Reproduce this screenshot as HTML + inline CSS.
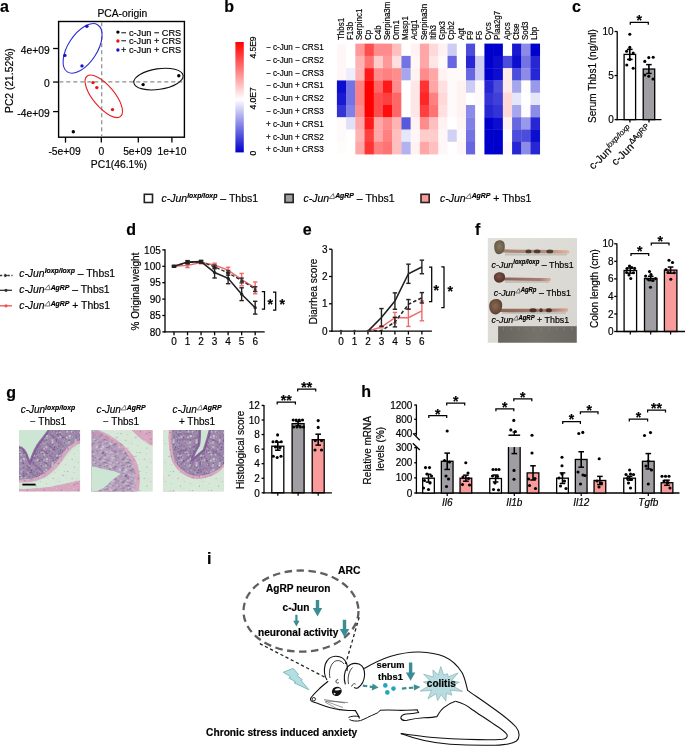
<!DOCTYPE html>
<html><head><meta charset="utf-8"><style>
html,body{margin:0;padding:0;background:#fff;width:685px;height:750px;overflow:hidden}
svg{display:block;will-change:transform}
text{font-family:"Liberation Sans", sans-serif;stroke:#000;stroke-width:0.18px}
</style></head><body>
<svg width="685" height="750" viewBox="0 0 685 750">
<text x="0" y="12" font-size="16" text-anchor="start" font-weight="bold" fill="#000">a</text>
<text x="122.35" y="17.1" font-size="10.3" text-anchor="middle" fill="#000">PCA-origin</text>
<rect x="58.6" y="21.5" width="125.8" height="115.7" fill="none" stroke="#000" stroke-width="1.4"/>
<line x1="59.3" y1="81.9" x2="183.7" y2="81.9" stroke="#8c8c8c" stroke-width="1.2" stroke-dasharray="4,3" stroke-linecap="butt"/>
<line x1="101.7" y1="22.2" x2="101.7" y2="136.4" stroke="#8c8c8c" stroke-width="1.2" stroke-dasharray="4,3" stroke-linecap="butt"/>
<line x1="65.5" y1="137.2" x2="65.5" y2="142.6" stroke="#000" stroke-width="1.3" stroke-linecap="butt"/>
<text x="64.6" y="155.0" font-size="10.3" text-anchor="middle" fill="#000">-5e+09</text>
<line x1="101.3" y1="137.2" x2="101.3" y2="142.6" stroke="#000" stroke-width="1.3" stroke-linecap="butt"/>
<text x="101.4" y="155.0" font-size="10.3" text-anchor="middle" fill="#000">0</text>
<line x1="138.3" y1="137.2" x2="138.3" y2="142.6" stroke="#000" stroke-width="1.3" stroke-linecap="butt"/>
<text x="137.6" y="155.0" font-size="10.3" text-anchor="middle" fill="#000">5e+09</text>
<line x1="171.9" y1="137.2" x2="171.9" y2="142.6" stroke="#000" stroke-width="1.3" stroke-linecap="butt"/>
<text x="172.0" y="155.0" font-size="10.3" text-anchor="middle" fill="#000">1e+10</text>
<line x1="53.1" y1="48.5" x2="58.6" y2="48.5" stroke="#000" stroke-width="1.3" stroke-linecap="butt"/>
<text x="49.7" y="53.5" font-size="10.3" text-anchor="end" fill="#000">4e+09</text>
<line x1="53.1" y1="82.05" x2="58.6" y2="82.05" stroke="#000" stroke-width="1.3" stroke-linecap="butt"/>
<text x="49.7" y="87.05" font-size="10.3" text-anchor="end" fill="#000">0</text>
<line x1="53.1" y1="111.6" x2="58.6" y2="111.6" stroke="#000" stroke-width="1.3" stroke-linecap="butt"/>
<text x="49.7" y="116.6" font-size="10.3" text-anchor="end" fill="#000">-4e+09</text>
<text x="118.9" y="168.2" font-size="10.3" text-anchor="middle" fill="#000">PC1(46.1%)</text>
<text x="13.0" y="80.6" font-size="10.3" text-anchor="middle" fill="#000" transform="rotate(-90 13.0 80.6)">PC2 (21.52%)</text>
<ellipse cx="82.6" cy="48.4" rx="28" ry="14.5" transform="rotate(-57 82.6 48.4)" fill="none" stroke="#2b2bd6" stroke-width="1.1"/>
<ellipse cx="103.8" cy="96.35" rx="26.2" ry="10.7" transform="rotate(50 103.8 96.35)" fill="none" stroke="#e52020" stroke-width="1.1"/>
<ellipse cx="158.45" cy="79.1" rx="24.9" ry="10.3" transform="rotate(-8.5 158.45 79.1)" fill="none" stroke="#111" stroke-width="1.1"/>
<circle cx="86.9" cy="26.3" r="1.7" fill="#1515d0"/>
<circle cx="64.9" cy="55.4" r="1.7" fill="#1515d0"/>
<circle cx="82" cy="65.9" r="1.7" fill="#1515d0"/>
<circle cx="93" cy="82.6" r="1.7" fill="#ee1111"/>
<circle cx="96.8" cy="87.6" r="1.7" fill="#ee1111"/>
<circle cx="112.5" cy="109.6" r="1.7" fill="#ee1111"/>
<circle cx="143.1" cy="84.6" r="1.7" fill="#000"/>
<circle cx="178.8" cy="75.7" r="1.7" fill="#000"/>
<circle cx="73.3" cy="131.7" r="1.7" fill="#000"/>
<circle cx="117.9" cy="32.1" r="1.7" fill="#000"/>
<text x="121.0" y="35.5" font-size="9.2" text-anchor="start" fill="#000">− c-Jun − CRS</text>
<circle cx="117.9" cy="41.05" r="1.7" fill="#ee1111"/>
<text x="121.0" y="44.449999999999996" font-size="9.2" text-anchor="start" fill="#000">− c-Jun + CRS</text>
<circle cx="117.9" cy="50.0" r="1.7" fill="#1515d0"/>
<text x="121.0" y="53.4" font-size="9.2" text-anchor="start" fill="#000">+ c-Jun + CRS</text>
<text x="224.3" y="11.8" font-size="16" text-anchor="start" font-weight="bold" fill="#000">b</text>
<defs><linearGradient id="cb" x1="0" y1="0" x2="0" y2="1">
<stop offset="0" stop-color="#ff0000"/><stop offset="0.52" stop-color="#ffffff"/><stop offset="1" stop-color="#0000cc"/>
</linearGradient></defs>
<rect x="235.4" y="42" width="8.4" height="110.4" fill="url(#cb)"/>
<text x="255.6" y="47.5" font-size="8.5" text-anchor="middle" fill="#000" transform="rotate(-90 255.6 47.5)">4.5E9</text>
<text x="255.6" y="98.4" font-size="8.5" text-anchor="middle" fill="#000" transform="rotate(-90 255.6 98.4)">4.0E7</text>
<text x="255.6" y="153.2" font-size="8.5" text-anchor="middle" fill="#000" transform="rotate(-90 255.6 153.2)">0</text>
<text x="0" y="0" font-size="8.7" text-anchor="start" fill="#000" transform="translate(265.9 50.1) scale(0.935 1)">− c-Jun − CRS1</text>
<text x="0" y="0" font-size="8.7" text-anchor="start" fill="#000" transform="translate(265.9 62.89) scale(0.935 1)">− c-Jun − CRS2</text>
<text x="0" y="0" font-size="8.7" text-anchor="start" fill="#000" transform="translate(265.9 75.68) scale(0.935 1)">− c-Jun − CRS3</text>
<text x="0" y="0" font-size="8.7" text-anchor="start" fill="#000" transform="translate(265.9 88.47) scale(0.935 1)">− c-Jun + CRS1</text>
<text x="0" y="0" font-size="8.7" text-anchor="start" fill="#000" transform="translate(265.9 101.25999999999999) scale(0.935 1)">− c-Jun + CRS2</text>
<text x="0" y="0" font-size="8.7" text-anchor="start" fill="#000" transform="translate(265.9 114.05) scale(0.935 1)">− c-Jun + CRS3</text>
<text x="0" y="0" font-size="8.7" text-anchor="start" fill="#000" transform="translate(265.9 126.84) scale(0.935 1)">+ c-Jun + CRS1</text>
<text x="0" y="0" font-size="8.7" text-anchor="start" fill="#000" transform="translate(265.9 139.63) scale(0.935 1)">+ c-Jun + CRS2</text>
<text x="0" y="0" font-size="8.7" text-anchor="start" fill="#000" transform="translate(265.9 152.42) scale(0.935 1)">+ c-Jun + CRS3</text>
<rect x="336.90" y="43.60" width="9.52" height="12.58" fill="rgb(255,247,247)"/>
<rect x="336.90" y="55.88" width="9.52" height="12.58" fill="rgb(255,247,247)"/>
<rect x="336.90" y="68.16" width="9.52" height="12.58" fill="rgb(255,247,247)"/>
<rect x="336.90" y="80.44" width="9.52" height="12.58" fill="rgb(13,13,207)"/>
<rect x="336.90" y="92.72" width="9.52" height="12.58" fill="rgb(25,25,209)"/>
<rect x="336.90" y="105.00" width="9.52" height="12.58" fill="rgb(51,51,214)"/>
<rect x="336.90" y="117.28" width="9.52" height="12.58" fill="rgb(255,250,250)"/>
<rect x="336.90" y="129.56" width="9.52" height="12.58" fill="rgb(255,250,250)"/>
<rect x="336.90" y="141.84" width="9.52" height="12.58" fill="rgb(255,252,252)"/>
<text x="0" y="0" font-size="8.5" text-anchor="start" fill="#000" transform="translate(343.71 40.0) rotate(-90) scale(0.935 1)">Thbs1</text>
<rect x="346.12" y="43.60" width="9.52" height="12.58" fill="rgb(255,255,255)"/>
<rect x="346.12" y="55.88" width="9.52" height="12.58" fill="rgb(255,255,255)"/>
<rect x="346.12" y="68.16" width="9.52" height="12.58" fill="rgb(237,237,251)"/>
<rect x="346.12" y="80.44" width="9.52" height="12.58" fill="rgb(115,115,227)"/>
<rect x="346.12" y="92.72" width="9.52" height="12.58" fill="rgb(115,115,227)"/>
<rect x="346.12" y="105.00" width="9.52" height="12.58" fill="rgb(128,128,230)"/>
<rect x="346.12" y="117.28" width="9.52" height="12.58" fill="rgb(224,224,249)"/>
<rect x="346.12" y="129.56" width="9.52" height="12.58" fill="rgb(255,255,255)"/>
<rect x="346.12" y="141.84" width="9.52" height="12.58" fill="rgb(255,255,255)"/>
<text x="0" y="0" font-size="8.5" text-anchor="start" fill="#000" transform="translate(352.92999999999995 40.0) rotate(-90) scale(0.935 1)">F13b</text>
<rect x="355.34" y="43.60" width="9.52" height="12.58" fill="rgb(255,153,153)"/>
<rect x="355.34" y="55.88" width="9.52" height="12.58" fill="rgb(255,178,178)"/>
<rect x="355.34" y="68.16" width="9.52" height="12.58" fill="rgb(255,178,178)"/>
<rect x="355.34" y="80.44" width="9.52" height="12.58" fill="rgb(255,128,128)"/>
<rect x="355.34" y="92.72" width="9.52" height="12.58" fill="rgb(255,128,128)"/>
<rect x="355.34" y="105.00" width="9.52" height="12.58" fill="rgb(255,140,140)"/>
<rect x="355.34" y="117.28" width="9.52" height="12.58" fill="rgb(255,166,166)"/>
<rect x="355.34" y="129.56" width="9.52" height="12.58" fill="rgb(255,178,178)"/>
<rect x="355.34" y="141.84" width="9.52" height="12.58" fill="rgb(255,166,166)"/>
<text x="0" y="0" font-size="8.5" text-anchor="start" fill="#000" transform="translate(362.15 40.0) rotate(-90) scale(0.935 1)">Serpinc1</text>
<rect x="364.56" y="43.60" width="9.52" height="12.58" fill="rgb(255,77,77)"/>
<rect x="364.56" y="55.88" width="9.52" height="12.58" fill="rgb(255,115,115)"/>
<rect x="364.56" y="68.16" width="9.52" height="12.58" fill="rgb(255,25,25)"/>
<rect x="364.56" y="80.44" width="9.52" height="12.58" fill="rgb(255,0,0)"/>
<rect x="364.56" y="92.72" width="9.52" height="12.58" fill="rgb(255,0,0)"/>
<rect x="364.56" y="105.00" width="9.52" height="12.58" fill="rgb(255,0,0)"/>
<rect x="364.56" y="117.28" width="9.52" height="12.58" fill="rgb(255,25,25)"/>
<rect x="364.56" y="129.56" width="9.52" height="12.58" fill="rgb(255,64,64)"/>
<rect x="364.56" y="141.84" width="9.52" height="12.58" fill="rgb(255,51,51)"/>
<text x="0" y="0" font-size="8.5" text-anchor="start" fill="#000" transform="translate(371.36999999999995 40.0) rotate(-90) scale(0.935 1)">Cp</text>
<rect x="373.78" y="43.60" width="9.52" height="12.58" fill="rgb(255,140,140)"/>
<rect x="373.78" y="55.88" width="9.52" height="12.58" fill="rgb(255,204,204)"/>
<rect x="373.78" y="68.16" width="9.52" height="12.58" fill="rgb(255,140,140)"/>
<rect x="373.78" y="80.44" width="9.52" height="12.58" fill="rgb(255,102,102)"/>
<rect x="373.78" y="92.72" width="9.52" height="12.58" fill="rgb(255,77,77)"/>
<rect x="373.78" y="105.00" width="9.52" height="12.58" fill="rgb(255,77,77)"/>
<rect x="373.78" y="117.28" width="9.52" height="12.58" fill="rgb(255,166,166)"/>
<rect x="373.78" y="129.56" width="9.52" height="12.58" fill="rgb(255,166,166)"/>
<rect x="373.78" y="141.84" width="9.52" height="12.58" fill="rgb(255,128,128)"/>
<text x="0" y="0" font-size="8.5" text-anchor="start" fill="#000" transform="translate(380.59 40.0) rotate(-90) scale(0.935 1)">C4b</text>
<rect x="383.00" y="43.60" width="9.52" height="12.58" fill="rgb(255,140,140)"/>
<rect x="383.00" y="55.88" width="9.52" height="12.58" fill="rgb(255,153,153)"/>
<rect x="383.00" y="68.16" width="9.52" height="12.58" fill="rgb(255,128,128)"/>
<rect x="383.00" y="80.44" width="9.52" height="12.58" fill="rgb(255,25,25)"/>
<rect x="383.00" y="92.72" width="9.52" height="12.58" fill="rgb(255,64,64)"/>
<rect x="383.00" y="105.00" width="9.52" height="12.58" fill="rgb(255,13,13)"/>
<rect x="383.00" y="117.28" width="9.52" height="12.58" fill="rgb(255,140,140)"/>
<rect x="383.00" y="129.56" width="9.52" height="12.58" fill="rgb(255,128,128)"/>
<rect x="383.00" y="141.84" width="9.52" height="12.58" fill="rgb(255,115,115)"/>
<text x="0" y="0" font-size="8.5" text-anchor="start" fill="#000" transform="translate(389.80999999999995 40.0) rotate(-90) scale(0.935 1)">Serpina3m</text>
<rect x="392.22" y="43.60" width="9.52" height="12.58" fill="rgb(255,191,191)"/>
<rect x="392.22" y="55.88" width="9.52" height="12.58" fill="rgb(255,224,224)"/>
<rect x="392.22" y="68.16" width="9.52" height="12.58" fill="rgb(255,140,140)"/>
<rect x="392.22" y="80.44" width="9.52" height="12.58" fill="rgb(255,140,140)"/>
<rect x="392.22" y="92.72" width="9.52" height="12.58" fill="rgb(255,102,102)"/>
<rect x="392.22" y="105.00" width="9.52" height="12.58" fill="rgb(255,102,102)"/>
<rect x="392.22" y="117.28" width="9.52" height="12.58" fill="rgb(255,178,178)"/>
<rect x="392.22" y="129.56" width="9.52" height="12.58" fill="rgb(255,191,191)"/>
<rect x="392.22" y="141.84" width="9.52" height="12.58" fill="rgb(255,191,191)"/>
<text x="0" y="0" font-size="8.5" text-anchor="start" fill="#000" transform="translate(399.03 40.0) rotate(-90) scale(0.935 1)">Orm1</text>
<rect x="401.44" y="43.60" width="9.52" height="12.58" fill="rgb(255,255,255)"/>
<rect x="401.44" y="55.88" width="9.52" height="12.58" fill="rgb(115,115,227)"/>
<rect x="401.44" y="68.16" width="9.52" height="12.58" fill="rgb(166,166,237)"/>
<rect x="401.44" y="80.44" width="9.52" height="12.58" fill="rgb(255,255,255)"/>
<rect x="401.44" y="92.72" width="9.52" height="12.58" fill="rgb(255,255,255)"/>
<rect x="401.44" y="105.00" width="9.52" height="12.58" fill="rgb(255,255,255)"/>
<rect x="401.44" y="117.28" width="9.52" height="12.58" fill="rgb(89,89,222)"/>
<rect x="401.44" y="129.56" width="9.52" height="12.58" fill="rgb(230,230,250)"/>
<rect x="401.44" y="141.84" width="9.52" height="12.58" fill="rgb(178,178,240)"/>
<text x="0" y="0" font-size="8.5" text-anchor="start" fill="#000" transform="translate(408.24999999999994 40.0) rotate(-90) scale(0.935 1)">Masp1</text>
<rect x="410.66" y="43.60" width="9.52" height="12.58" fill="rgb(255,242,242)"/>
<rect x="410.66" y="55.88" width="9.52" height="12.58" fill="rgb(255,247,247)"/>
<rect x="410.66" y="68.16" width="9.52" height="12.58" fill="rgb(255,242,242)"/>
<rect x="410.66" y="80.44" width="9.52" height="12.58" fill="rgb(255,230,230)"/>
<rect x="410.66" y="92.72" width="9.52" height="12.58" fill="rgb(255,230,230)"/>
<rect x="410.66" y="105.00" width="9.52" height="12.58" fill="rgb(255,230,230)"/>
<rect x="410.66" y="117.28" width="9.52" height="12.58" fill="rgb(255,242,242)"/>
<rect x="410.66" y="129.56" width="9.52" height="12.58" fill="rgb(255,247,247)"/>
<rect x="410.66" y="141.84" width="9.52" height="12.58" fill="rgb(255,242,242)"/>
<text x="0" y="0" font-size="8.5" text-anchor="start" fill="#000" transform="translate(417.46999999999997 40.0) rotate(-90) scale(0.935 1)">Actg1</text>
<rect x="419.88" y="43.60" width="9.52" height="12.58" fill="rgb(255,166,166)"/>
<rect x="419.88" y="55.88" width="9.52" height="12.58" fill="rgb(255,166,166)"/>
<rect x="419.88" y="68.16" width="9.52" height="12.58" fill="rgb(255,140,140)"/>
<rect x="419.88" y="80.44" width="9.52" height="12.58" fill="rgb(255,51,51)"/>
<rect x="419.88" y="92.72" width="9.52" height="12.58" fill="rgb(255,38,38)"/>
<rect x="419.88" y="105.00" width="9.52" height="12.58" fill="rgb(255,64,64)"/>
<rect x="419.88" y="117.28" width="9.52" height="12.58" fill="rgb(255,140,140)"/>
<rect x="419.88" y="129.56" width="9.52" height="12.58" fill="rgb(255,204,204)"/>
<rect x="419.88" y="141.84" width="9.52" height="12.58" fill="rgb(255,166,166)"/>
<text x="0" y="0" font-size="8.5" text-anchor="start" fill="#000" transform="translate(426.69 40.0) rotate(-90) scale(0.935 1)">Serpina3n</text>
<rect x="429.10" y="43.60" width="9.52" height="12.58" fill="rgb(255,217,217)"/>
<rect x="429.10" y="55.88" width="9.52" height="12.58" fill="rgb(255,230,230)"/>
<rect x="429.10" y="68.16" width="9.52" height="12.58" fill="rgb(255,166,166)"/>
<rect x="429.10" y="80.44" width="9.52" height="12.58" fill="rgb(255,166,166)"/>
<rect x="429.10" y="92.72" width="9.52" height="12.58" fill="rgb(255,128,128)"/>
<rect x="429.10" y="105.00" width="9.52" height="12.58" fill="rgb(255,115,115)"/>
<rect x="429.10" y="117.28" width="9.52" height="12.58" fill="rgb(255,191,191)"/>
<rect x="429.10" y="129.56" width="9.52" height="12.58" fill="rgb(255,204,204)"/>
<rect x="429.10" y="141.84" width="9.52" height="12.58" fill="rgb(255,191,191)"/>
<text x="0" y="0" font-size="8.5" text-anchor="start" fill="#000" transform="translate(435.90999999999997 40.0) rotate(-90) scale(0.935 1)">Itih3</text>
<rect x="438.32" y="43.60" width="9.52" height="12.58" fill="rgb(255,242,242)"/>
<rect x="438.32" y="55.88" width="9.52" height="12.58" fill="rgb(255,250,250)"/>
<rect x="438.32" y="68.16" width="9.52" height="12.58" fill="rgb(255,242,242)"/>
<rect x="438.32" y="80.44" width="9.52" height="12.58" fill="rgb(255,224,224)"/>
<rect x="438.32" y="92.72" width="9.52" height="12.58" fill="rgb(255,217,217)"/>
<rect x="438.32" y="105.00" width="9.52" height="12.58" fill="rgb(255,224,224)"/>
<rect x="438.32" y="117.28" width="9.52" height="12.58" fill="rgb(255,242,242)"/>
<rect x="438.32" y="129.56" width="9.52" height="12.58" fill="rgb(255,247,247)"/>
<rect x="438.32" y="141.84" width="9.52" height="12.58" fill="rgb(255,247,247)"/>
<text x="0" y="0" font-size="8.5" text-anchor="start" fill="#000" transform="translate(445.12999999999994 40.0) rotate(-90) scale(0.935 1)">Gpx3</text>
<rect x="447.54" y="43.60" width="9.52" height="12.58" fill="rgb(204,204,245)"/>
<rect x="447.54" y="55.88" width="9.52" height="12.58" fill="rgb(102,102,224)"/>
<rect x="447.54" y="68.16" width="9.52" height="12.58" fill="rgb(255,250,250)"/>
<rect x="447.54" y="80.44" width="9.52" height="12.58" fill="rgb(255,250,250)"/>
<rect x="447.54" y="92.72" width="9.52" height="12.58" fill="rgb(255,250,250)"/>
<rect x="447.54" y="105.00" width="9.52" height="12.58" fill="rgb(255,250,250)"/>
<rect x="447.54" y="117.28" width="9.52" height="12.58" fill="rgb(255,255,255)"/>
<rect x="447.54" y="129.56" width="9.52" height="12.58" fill="rgb(209,209,246)"/>
<rect x="447.54" y="141.84" width="9.52" height="12.58" fill="rgb(255,255,255)"/>
<text x="0" y="0" font-size="8.5" text-anchor="start" fill="#000" transform="translate(454.34999999999997 40.0) rotate(-90) scale(0.935 1)">Cpb2</text>
<rect x="456.76" y="43.60" width="9.52" height="12.58" fill="rgb(255,255,255)"/>
<rect x="456.76" y="55.88" width="9.52" height="12.58" fill="rgb(255,255,255)"/>
<rect x="456.76" y="68.16" width="9.52" height="12.58" fill="rgb(255,250,250)"/>
<rect x="456.76" y="80.44" width="9.52" height="12.58" fill="rgb(255,242,242)"/>
<rect x="456.76" y="92.72" width="9.52" height="12.58" fill="rgb(255,242,242)"/>
<rect x="456.76" y="105.00" width="9.52" height="12.58" fill="rgb(255,242,242)"/>
<rect x="456.76" y="117.28" width="9.52" height="12.58" fill="rgb(255,245,245)"/>
<rect x="456.76" y="129.56" width="9.52" height="12.58" fill="rgb(255,250,250)"/>
<rect x="456.76" y="141.84" width="9.52" height="12.58" fill="rgb(255,247,247)"/>
<text x="0" y="0" font-size="8.5" text-anchor="start" fill="#000" transform="translate(463.57 40.0) rotate(-90) scale(0.935 1)">Agt</text>
<rect x="465.98" y="43.60" width="9.52" height="12.58" fill="rgb(77,77,219)"/>
<rect x="465.98" y="55.88" width="9.52" height="12.58" fill="rgb(38,38,212)"/>
<rect x="465.98" y="68.16" width="9.52" height="12.58" fill="rgb(102,102,224)"/>
<rect x="465.98" y="80.44" width="9.52" height="12.58" fill="rgb(204,204,245)"/>
<rect x="465.98" y="92.72" width="9.52" height="12.58" fill="rgb(255,255,255)"/>
<rect x="465.98" y="105.00" width="9.52" height="12.58" fill="rgb(140,140,232)"/>
<rect x="465.98" y="117.28" width="9.52" height="12.58" fill="rgb(128,128,230)"/>
<rect x="465.98" y="129.56" width="9.52" height="12.58" fill="rgb(115,115,227)"/>
<rect x="465.98" y="141.84" width="9.52" height="12.58" fill="rgb(102,102,224)"/>
<text x="0" y="0" font-size="8.5" text-anchor="start" fill="#000" transform="translate(472.78999999999996 40.0) rotate(-90) scale(0.935 1)">F9</text>
<rect x="475.20" y="43.60" width="9.52" height="12.58" fill="rgb(255,255,255)"/>
<rect x="475.20" y="55.88" width="9.52" height="12.58" fill="rgb(204,204,245)"/>
<rect x="475.20" y="68.16" width="9.52" height="12.58" fill="rgb(204,204,245)"/>
<rect x="475.20" y="80.44" width="9.52" height="12.58" fill="rgb(255,250,250)"/>
<rect x="475.20" y="92.72" width="9.52" height="12.58" fill="rgb(255,250,250)"/>
<rect x="475.20" y="105.00" width="9.52" height="12.58" fill="rgb(255,255,255)"/>
<rect x="475.20" y="117.28" width="9.52" height="12.58" fill="rgb(255,255,255)"/>
<rect x="475.20" y="129.56" width="9.52" height="12.58" fill="rgb(255,255,255)"/>
<rect x="475.20" y="141.84" width="9.52" height="12.58" fill="rgb(255,255,255)"/>
<text x="0" y="0" font-size="8.5" text-anchor="start" fill="#000" transform="translate(482.00999999999993 40.0) rotate(-90) scale(0.935 1)">F5</text>
<rect x="484.42" y="43.60" width="9.52" height="12.58" fill="rgb(0,0,204)"/>
<rect x="484.42" y="55.88" width="9.52" height="12.58" fill="rgb(0,0,204)"/>
<rect x="484.42" y="68.16" width="9.52" height="12.58" fill="rgb(0,0,204)"/>
<rect x="484.42" y="80.44" width="9.52" height="12.58" fill="rgb(38,38,212)"/>
<rect x="484.42" y="92.72" width="9.52" height="12.58" fill="rgb(51,51,214)"/>
<rect x="484.42" y="105.00" width="9.52" height="12.58" fill="rgb(38,38,212)"/>
<rect x="484.42" y="117.28" width="9.52" height="12.58" fill="rgb(0,0,204)"/>
<rect x="484.42" y="129.56" width="9.52" height="12.58" fill="rgb(0,0,204)"/>
<rect x="484.42" y="141.84" width="9.52" height="12.58" fill="rgb(0,0,204)"/>
<text x="0" y="0" font-size="8.5" text-anchor="start" fill="#000" transform="translate(491.22999999999996 40.0) rotate(-90) scale(0.935 1)">Cycs</text>
<rect x="493.64" y="43.60" width="9.52" height="12.58" fill="rgb(0,0,204)"/>
<rect x="493.64" y="55.88" width="9.52" height="12.58" fill="rgb(13,13,207)"/>
<rect x="493.64" y="68.16" width="9.52" height="12.58" fill="rgb(13,13,207)"/>
<rect x="493.64" y="80.44" width="9.52" height="12.58" fill="rgb(77,77,219)"/>
<rect x="493.64" y="92.72" width="9.52" height="12.58" fill="rgb(64,64,217)"/>
<rect x="493.64" y="105.00" width="9.52" height="12.58" fill="rgb(51,51,214)"/>
<rect x="493.64" y="117.28" width="9.52" height="12.58" fill="rgb(13,13,207)"/>
<rect x="493.64" y="129.56" width="9.52" height="12.58" fill="rgb(0,0,204)"/>
<rect x="493.64" y="141.84" width="9.52" height="12.58" fill="rgb(0,0,204)"/>
<text x="0" y="0" font-size="8.5" text-anchor="start" fill="#000" transform="translate(500.45 40.0) rotate(-90) scale(0.935 1)">Plaa2g7</text>
<rect x="502.86" y="43.60" width="9.52" height="12.58" fill="rgb(255,255,255)"/>
<rect x="502.86" y="55.88" width="9.52" height="12.58" fill="rgb(77,77,219)"/>
<rect x="502.86" y="68.16" width="9.52" height="12.58" fill="rgb(255,235,235)"/>
<rect x="502.86" y="80.44" width="9.52" height="12.58" fill="rgb(255,235,235)"/>
<rect x="502.86" y="92.72" width="9.52" height="12.58" fill="rgb(255,217,217)"/>
<rect x="502.86" y="105.00" width="9.52" height="12.58" fill="rgb(255,217,217)"/>
<rect x="502.86" y="117.28" width="9.52" height="12.58" fill="rgb(255,242,242)"/>
<rect x="502.86" y="129.56" width="9.52" height="12.58" fill="rgb(255,255,255)"/>
<rect x="502.86" y="141.84" width="9.52" height="12.58" fill="rgb(255,250,250)"/>
<text x="0" y="0" font-size="8.5" text-anchor="start" fill="#000" transform="translate(509.67 40.0) rotate(-90) scale(0.935 1)">Apcs</text>
<rect x="512.08" y="43.60" width="9.52" height="12.58" fill="rgb(25,25,209)"/>
<rect x="512.08" y="55.88" width="9.52" height="12.58" fill="rgb(13,13,207)"/>
<rect x="512.08" y="68.16" width="9.52" height="12.58" fill="rgb(77,77,219)"/>
<rect x="512.08" y="80.44" width="9.52" height="12.58" fill="rgb(166,166,237)"/>
<rect x="512.08" y="92.72" width="9.52" height="12.58" fill="rgb(230,230,250)"/>
<rect x="512.08" y="105.00" width="9.52" height="12.58" fill="rgb(166,166,237)"/>
<rect x="512.08" y="117.28" width="9.52" height="12.58" fill="rgb(102,102,224)"/>
<rect x="512.08" y="129.56" width="9.52" height="12.58" fill="rgb(77,77,219)"/>
<rect x="512.08" y="141.84" width="9.52" height="12.58" fill="rgb(38,38,212)"/>
<text x="0" y="0" font-size="8.5" text-anchor="start" fill="#000" transform="translate(518.8900000000001 40.0) rotate(-90) scale(0.935 1)">Ctse</text>
<rect x="521.30" y="43.60" width="9.52" height="12.58" fill="rgb(140,140,232)"/>
<rect x="521.30" y="55.88" width="9.52" height="12.58" fill="rgb(115,115,227)"/>
<rect x="521.30" y="68.16" width="9.52" height="12.58" fill="rgb(140,140,232)"/>
<rect x="521.30" y="80.44" width="9.52" height="12.58" fill="rgb(255,252,252)"/>
<rect x="521.30" y="92.72" width="9.52" height="12.58" fill="rgb(255,255,255)"/>
<rect x="521.30" y="105.00" width="9.52" height="12.58" fill="rgb(255,252,252)"/>
<rect x="521.30" y="117.28" width="9.52" height="12.58" fill="rgb(153,153,235)"/>
<rect x="521.30" y="129.56" width="9.52" height="12.58" fill="rgb(77,77,219)"/>
<rect x="521.30" y="141.84" width="9.52" height="12.58" fill="rgb(140,140,232)"/>
<text x="0" y="0" font-size="8.5" text-anchor="start" fill="#000" transform="translate(528.11 40.0) rotate(-90) scale(0.935 1)">Sod3</text>
<rect x="530.52" y="43.60" width="9.52" height="12.58" fill="rgb(0,0,204)"/>
<rect x="530.52" y="55.88" width="9.52" height="12.58" fill="rgb(38,38,212)"/>
<rect x="530.52" y="68.16" width="9.52" height="12.58" fill="rgb(38,38,212)"/>
<rect x="530.52" y="80.44" width="9.52" height="12.58" fill="rgb(153,153,235)"/>
<rect x="530.52" y="92.72" width="9.52" height="12.58" fill="rgb(230,230,250)"/>
<rect x="530.52" y="105.00" width="9.52" height="12.58" fill="rgb(140,140,232)"/>
<rect x="530.52" y="117.28" width="9.52" height="12.58" fill="rgb(38,38,212)"/>
<rect x="530.52" y="129.56" width="9.52" height="12.58" fill="rgb(13,13,207)"/>
<rect x="530.52" y="141.84" width="9.52" height="12.58" fill="rgb(38,38,212)"/>
<text x="0" y="0" font-size="8.5" text-anchor="start" fill="#000" transform="translate(537.33 40.0) rotate(-90) scale(0.935 1)">Lbp</text>
<text x="572.0" y="11.8" font-size="16" text-anchor="start" font-weight="bold" fill="#000">c</text>
<rect x="624.1" y="54.40599999999999" width="11.5" height="65.194" fill="#fff" stroke="#000" stroke-width="1.3"/>
<rect x="643.2" y="69.03059999999999" width="11.5" height="50.5694" fill="#a09ea2" stroke="#000" stroke-width="1.3"/>
<line x1="617.2" y1="31.3" x2="617.2" y2="120.19999999999999" stroke="#000" stroke-width="1.3" stroke-linecap="butt"/>
<line x1="616.6" y1="119.6" x2="661.5" y2="119.6" stroke="#000" stroke-width="1.3" stroke-linecap="butt"/>
<line x1="614.6" y1="31.499999999999986" x2="617.2" y2="31.499999999999986" stroke="#000" stroke-width="1.3" stroke-linecap="butt"/>
<text x="613.7" y="34.999999999999986" font-size="10" text-anchor="end" fill="#000">10</text>
<line x1="614.6" y1="75.54999999999998" x2="617.2" y2="75.54999999999998" stroke="#000" stroke-width="1.3" stroke-linecap="butt"/>
<text x="613.7" y="79.04999999999998" font-size="10" text-anchor="end" fill="#000">5</text>
<line x1="614.6" y1="119.6" x2="617.2" y2="119.6" stroke="#000" stroke-width="1.3" stroke-linecap="butt"/>
<text x="613.7" y="123.1" font-size="10" text-anchor="end" fill="#000">0</text>
<line x1="629.9" y1="119.6" x2="629.9" y2="122.6" stroke="#000" stroke-width="1.3" stroke-linecap="butt"/>
<line x1="649" y1="119.6" x2="649" y2="122.6" stroke="#000" stroke-width="1.3" stroke-linecap="butt"/>
<line x1="629.8" y1="49.38429999999998" x2="629.8" y2="59.42769999999999" stroke="#000" stroke-width="1.6" stroke-linecap="butt"/>
<line x1="627.0" y1="49.38429999999998" x2="632.5999999999999" y2="49.38429999999998" stroke="#000" stroke-width="1.5" stroke-linecap="butt"/>
<line x1="627.0" y1="59.42769999999999" x2="632.5999999999999" y2="59.42769999999999" stroke="#000" stroke-width="1.5" stroke-linecap="butt"/>
<line x1="648.9" y1="64.62559999999999" x2="648.9" y2="73.4356" stroke="#000" stroke-width="1.6" stroke-linecap="butt"/>
<line x1="646.1" y1="64.62559999999999" x2="651.6999999999999" y2="64.62559999999999" stroke="#000" stroke-width="1.5" stroke-linecap="butt"/>
<line x1="646.1" y1="73.4356" x2="651.6999999999999" y2="73.4356" stroke="#000" stroke-width="1.5" stroke-linecap="butt"/>
<circle cx="629.8" cy="34.2" r="1.55" fill="#000"/>
<circle cx="629.8" cy="47.4" r="1.55" fill="#000"/>
<circle cx="626.6" cy="51.2" r="1.55" fill="#000"/>
<circle cx="633.2" cy="53" r="1.55" fill="#000"/>
<circle cx="629.8" cy="59.4" r="1.55" fill="#000"/>
<circle cx="626.8" cy="65" r="1.55" fill="#000"/>
<circle cx="633.2" cy="68.2" r="1.55" fill="#000"/>
<circle cx="644.8" cy="61.4" r="1.55" fill="#000"/>
<circle cx="648.8" cy="57.6" r="1.55" fill="#000"/>
<circle cx="653.2" cy="57.2" r="1.55" fill="#000"/>
<circle cx="644.8" cy="75" r="1.55" fill="#000"/>
<circle cx="648.8" cy="76.2" r="1.55" fill="#000"/>
<circle cx="653" cy="79" r="1.55" fill="#000"/>
<path d="M630.3,24.799999999999997 V22.4 H648.3 V24.799999999999997" stroke="#000" stroke-width="1.25" fill="none"/>
<text x="639.3" y="25.20" font-size="14" font-weight="bold" text-anchor="middle">*</text>
<text x="595.9" y="76" font-size="10" text-anchor="middle" fill="#000" transform="rotate(-90 595.9 76)">Serum Thbs1 (ng/ml)</text>
<text x="633.2" y="130.2" font-size="10.8" text-anchor="end" transform="rotate(-45 633.2 130.2)"><tspan>c-Jun</tspan><tspan font-size="7.6" font-style="italic" dy="-4">loxp/loxp</tspan></text>
<text x="652.6" y="129.3" font-size="10.8" text-anchor="end" transform="rotate(-45 652.6 129.3)"><tspan>c-Jun</tspan><tspan font-size="7.8" dy="-4">ΔAgRP</tspan></text>
<rect x="144.3" y="194.3" width="8.2" height="8.2" fill="#fff" stroke="#222" stroke-width="1.6"/>
<text x="161.50" y="201.8" font-size="10.5" font-style="italic">c-Jun</text>
<text x="187.18" y="198.40" font-size="6.9" font-weight="bold" font-style="italic">loxp/loxp</text>
<text x="217.46" y="201.8" font-size="10.5" xml:space="preserve"> – Thbs1</text>
<rect x="285.0" y="194.3" width="8.2" height="8.2" fill="#a09ea2" stroke="#222" stroke-width="1.6"/>
<text x="303.40" y="201.8" font-size="10.5" font-style="italic">c-Jun</text>
<path d="M329.18,198.55 L334.43,198.55 L333.32,193.61 Z" fill="none" stroke="#222" stroke-width="0.63" stroke-linejoin="miter"/>
<text x="335.13" y="198.40" font-size="6.9" font-weight="bold" font-style="italic">AgRP</text>
<text x="353.91" y="201.8" font-size="10.5" xml:space="preserve"> – Thbs1</text>
<rect x="421.0" y="194.3" width="8.2" height="8.2" fill="#f99b9b" stroke="#222" stroke-width="1.6"/>
<text x="439.90" y="201.8" font-size="10.5" font-style="italic">c-Jun</text>
<path d="M465.68,198.55 L470.93,198.55 L469.82,193.61 Z" fill="none" stroke="#222" stroke-width="0.63" stroke-linejoin="miter"/>
<text x="471.63" y="198.40" font-size="6.9" font-weight="bold" font-style="italic">AgRP</text>
<text x="490.41" y="201.8" font-size="10.5" xml:space="preserve"> + Thbs1</text>
<text x="126.3" y="234.7" font-size="16" text-anchor="start" font-weight="bold" fill="#000">d</text>
<line x1="165.0" y1="249.2" x2="165.0" y2="332.4" stroke="#000" stroke-width="1.3" stroke-linecap="butt"/>
<line x1="164.4" y1="331.8" x2="264.7" y2="331.8" stroke="#000" stroke-width="1.3" stroke-linecap="butt"/>
<line x1="162.3" y1="249.9" x2="165.0" y2="249.9" stroke="#000" stroke-width="1.3" stroke-linecap="butt"/>
<text x="160.8" y="253.5" font-size="10" text-anchor="end" fill="#000">105</text>
<line x1="162.3" y1="266.3" x2="165.0" y2="266.3" stroke="#000" stroke-width="1.3" stroke-linecap="butt"/>
<text x="160.8" y="269.90000000000003" font-size="10" text-anchor="end" fill="#000">100</text>
<line x1="162.3" y1="282.7" x2="165.0" y2="282.7" stroke="#000" stroke-width="1.3" stroke-linecap="butt"/>
<text x="160.8" y="286.3" font-size="10" text-anchor="end" fill="#000">95</text>
<line x1="162.3" y1="299.1" x2="165.0" y2="299.1" stroke="#000" stroke-width="1.3" stroke-linecap="butt"/>
<text x="160.8" y="302.70000000000005" font-size="10" text-anchor="end" fill="#000">90</text>
<line x1="162.3" y1="315.5" x2="165.0" y2="315.5" stroke="#000" stroke-width="1.3" stroke-linecap="butt"/>
<text x="160.8" y="319.1" font-size="10" text-anchor="end" fill="#000">85</text>
<line x1="162.3" y1="331.9" x2="165.0" y2="331.9" stroke="#000" stroke-width="1.3" stroke-linecap="butt"/>
<text x="160.8" y="335.5" font-size="10" text-anchor="end" fill="#000">80</text>
<line x1="174.0" y1="331.8" x2="174.0" y2="335.3" stroke="#000" stroke-width="1.3" stroke-linecap="butt"/>
<text x="174.0" y="345.3" font-size="10" text-anchor="middle" fill="#000">0</text>
<line x1="187.53" y1="331.8" x2="187.53" y2="335.3" stroke="#000" stroke-width="1.3" stroke-linecap="butt"/>
<text x="187.53" y="345.3" font-size="10" text-anchor="middle" fill="#000">1</text>
<line x1="201.06" y1="331.8" x2="201.06" y2="335.3" stroke="#000" stroke-width="1.3" stroke-linecap="butt"/>
<text x="201.06" y="345.3" font-size="10" text-anchor="middle" fill="#000">2</text>
<line x1="214.59" y1="331.8" x2="214.59" y2="335.3" stroke="#000" stroke-width="1.3" stroke-linecap="butt"/>
<text x="214.59" y="345.3" font-size="10" text-anchor="middle" fill="#000">3</text>
<line x1="228.12" y1="331.8" x2="228.12" y2="335.3" stroke="#000" stroke-width="1.3" stroke-linecap="butt"/>
<text x="228.12" y="345.3" font-size="10" text-anchor="middle" fill="#000">4</text>
<line x1="241.64999999999998" y1="331.8" x2="241.64999999999998" y2="335.3" stroke="#000" stroke-width="1.3" stroke-linecap="butt"/>
<text x="241.64999999999998" y="345.3" font-size="10" text-anchor="middle" fill="#000">5</text>
<line x1="255.18" y1="331.8" x2="255.18" y2="335.3" stroke="#000" stroke-width="1.3" stroke-linecap="butt"/>
<text x="255.18" y="345.3" font-size="10" text-anchor="middle" fill="#000">6</text>
<text x="139.3" y="291.5" font-size="10" text-anchor="middle" fill="#000" transform="rotate(-90 139.3 291.5)">% Original weight</text>
<polyline points="174.00,266.30 187.53,265.40 201.06,262.50 214.59,265.00 228.12,270.10 241.65,279.60 255.18,287.90" fill="none" stroke="#f06a6a" stroke-width="1.4"/>
<line x1="174.0" y1="265.5" x2="174.0" y2="267.1" stroke="#f06a6a" stroke-width="1.4" stroke-linecap="butt"/>
<line x1="171.8" y1="265.5" x2="176.2" y2="265.5" stroke="#f06a6a" stroke-width="1.4" stroke-linecap="butt"/>
<line x1="171.8" y1="267.1" x2="176.2" y2="267.1" stroke="#f06a6a" stroke-width="1.4" stroke-linecap="butt"/>
<circle cx="174.0" cy="266.3" r="1.6" fill="#f06a6a"/>
<line x1="187.53" y1="263.2" x2="187.53" y2="267.59999999999997" stroke="#f06a6a" stroke-width="1.4" stroke-linecap="butt"/>
<line x1="185.33" y1="263.2" x2="189.73" y2="263.2" stroke="#f06a6a" stroke-width="1.4" stroke-linecap="butt"/>
<line x1="185.33" y1="267.59999999999997" x2="189.73" y2="267.59999999999997" stroke="#f06a6a" stroke-width="1.4" stroke-linecap="butt"/>
<circle cx="187.53" cy="265.4" r="1.6" fill="#f06a6a"/>
<line x1="201.06" y1="261.2" x2="201.06" y2="263.8" stroke="#f06a6a" stroke-width="1.4" stroke-linecap="butt"/>
<line x1="198.86" y1="261.2" x2="203.26" y2="261.2" stroke="#f06a6a" stroke-width="1.4" stroke-linecap="butt"/>
<line x1="198.86" y1="263.8" x2="203.26" y2="263.8" stroke="#f06a6a" stroke-width="1.4" stroke-linecap="butt"/>
<circle cx="201.06" cy="262.5" r="1.6" fill="#f06a6a"/>
<line x1="214.59" y1="263.2" x2="214.59" y2="266.8" stroke="#f06a6a" stroke-width="1.4" stroke-linecap="butt"/>
<line x1="212.39000000000001" y1="263.2" x2="216.79" y2="263.2" stroke="#f06a6a" stroke-width="1.4" stroke-linecap="butt"/>
<line x1="212.39000000000001" y1="266.8" x2="216.79" y2="266.8" stroke="#f06a6a" stroke-width="1.4" stroke-linecap="butt"/>
<circle cx="214.59" cy="265.0" r="1.6" fill="#f06a6a"/>
<line x1="228.12" y1="267.3" x2="228.12" y2="272.90000000000003" stroke="#f06a6a" stroke-width="1.4" stroke-linecap="butt"/>
<line x1="225.92000000000002" y1="267.3" x2="230.32" y2="267.3" stroke="#f06a6a" stroke-width="1.4" stroke-linecap="butt"/>
<line x1="225.92000000000002" y1="272.90000000000003" x2="230.32" y2="272.90000000000003" stroke="#f06a6a" stroke-width="1.4" stroke-linecap="butt"/>
<circle cx="228.12" cy="270.1" r="1.6" fill="#f06a6a"/>
<line x1="241.64999999999998" y1="273.40000000000003" x2="241.64999999999998" y2="285.8" stroke="#f06a6a" stroke-width="1.4" stroke-linecap="butt"/>
<line x1="239.45" y1="273.40000000000003" x2="243.84999999999997" y2="273.40000000000003" stroke="#f06a6a" stroke-width="1.4" stroke-linecap="butt"/>
<line x1="239.45" y1="285.8" x2="243.84999999999997" y2="285.8" stroke="#f06a6a" stroke-width="1.4" stroke-linecap="butt"/>
<circle cx="241.64999999999998" cy="279.6" r="1.6" fill="#f06a6a"/>
<line x1="255.18" y1="282.0" x2="255.18" y2="293.79999999999995" stroke="#f06a6a" stroke-width="1.4" stroke-linecap="butt"/>
<line x1="252.98000000000002" y1="282.0" x2="257.38" y2="282.0" stroke="#f06a6a" stroke-width="1.4" stroke-linecap="butt"/>
<line x1="252.98000000000002" y1="293.79999999999995" x2="257.38" y2="293.79999999999995" stroke="#f06a6a" stroke-width="1.4" stroke-linecap="butt"/>
<circle cx="255.18" cy="287.9" r="1.6" fill="#f06a6a"/>
<polyline points="174.00,266.30 187.53,262.50 201.06,261.80 214.59,266.90 228.12,273.00 241.65,280.50 255.18,289.10" fill="none" stroke="#333" stroke-width="1.4" stroke-dasharray="3.5,2"/>
<line x1="174.0" y1="265.5" x2="174.0" y2="267.1" stroke="#333" stroke-width="1.4" stroke-linecap="butt"/>
<line x1="171.8" y1="265.5" x2="176.2" y2="265.5" stroke="#333" stroke-width="1.4" stroke-linecap="butt"/>
<line x1="171.8" y1="267.1" x2="176.2" y2="267.1" stroke="#333" stroke-width="1.4" stroke-linecap="butt"/>
<path d="M172.20,267.70 L174.00,264.50 L175.80,267.70 Z" fill="#333"/>
<line x1="187.53" y1="261.2" x2="187.53" y2="263.8" stroke="#333" stroke-width="1.4" stroke-linecap="butt"/>
<line x1="185.33" y1="261.2" x2="189.73" y2="261.2" stroke="#333" stroke-width="1.4" stroke-linecap="butt"/>
<line x1="185.33" y1="263.8" x2="189.73" y2="263.8" stroke="#333" stroke-width="1.4" stroke-linecap="butt"/>
<path d="M185.73,263.90 L187.53,260.70 L189.33,263.90 Z" fill="#333"/>
<line x1="201.06" y1="260.6" x2="201.06" y2="263.0" stroke="#333" stroke-width="1.4" stroke-linecap="butt"/>
<line x1="198.86" y1="260.6" x2="203.26" y2="260.6" stroke="#333" stroke-width="1.4" stroke-linecap="butt"/>
<line x1="198.86" y1="263.0" x2="203.26" y2="263.0" stroke="#333" stroke-width="1.4" stroke-linecap="butt"/>
<path d="M199.26,263.20 L201.06,260.00 L202.86,263.20 Z" fill="#333"/>
<line x1="214.59" y1="265.09999999999997" x2="214.59" y2="268.7" stroke="#333" stroke-width="1.4" stroke-linecap="butt"/>
<line x1="212.39000000000001" y1="265.09999999999997" x2="216.79" y2="265.09999999999997" stroke="#333" stroke-width="1.4" stroke-linecap="butt"/>
<line x1="212.39000000000001" y1="268.7" x2="216.79" y2="268.7" stroke="#333" stroke-width="1.4" stroke-linecap="butt"/>
<path d="M212.79,268.30 L214.59,265.10 L216.39,268.30 Z" fill="#333"/>
<line x1="228.12" y1="270.8" x2="228.12" y2="275.2" stroke="#333" stroke-width="1.4" stroke-linecap="butt"/>
<line x1="225.92000000000002" y1="270.8" x2="230.32" y2="270.8" stroke="#333" stroke-width="1.4" stroke-linecap="butt"/>
<line x1="225.92000000000002" y1="275.2" x2="230.32" y2="275.2" stroke="#333" stroke-width="1.4" stroke-linecap="butt"/>
<path d="M226.32,274.40 L228.12,271.20 L229.92,274.40 Z" fill="#333"/>
<line x1="241.64999999999998" y1="278.1" x2="241.64999999999998" y2="282.9" stroke="#333" stroke-width="1.4" stroke-linecap="butt"/>
<line x1="239.45" y1="278.1" x2="243.84999999999997" y2="278.1" stroke="#333" stroke-width="1.4" stroke-linecap="butt"/>
<line x1="239.45" y1="282.9" x2="243.84999999999997" y2="282.9" stroke="#333" stroke-width="1.4" stroke-linecap="butt"/>
<path d="M239.85,281.90 L241.65,278.70 L243.45,281.90 Z" fill="#333"/>
<line x1="255.18" y1="286.70000000000005" x2="255.18" y2="291.5" stroke="#333" stroke-width="1.4" stroke-linecap="butt"/>
<line x1="252.98000000000002" y1="286.70000000000005" x2="257.38" y2="286.70000000000005" stroke="#333" stroke-width="1.4" stroke-linecap="butt"/>
<line x1="252.98000000000002" y1="291.5" x2="257.38" y2="291.5" stroke="#333" stroke-width="1.4" stroke-linecap="butt"/>
<path d="M253.38,290.50 L255.18,287.30 L256.98,290.50 Z" fill="#333"/>
<polyline points="174.00,266.30 187.53,262.10 201.06,261.60 214.59,272.60 228.12,278.30 241.65,294.20 255.18,307.70" fill="none" stroke="#222" stroke-width="1.6"/>
<line x1="174.0" y1="265.5" x2="174.0" y2="267.1" stroke="#222" stroke-width="1.4" stroke-linecap="butt"/>
<line x1="171.8" y1="265.5" x2="176.2" y2="265.5" stroke="#222" stroke-width="1.4" stroke-linecap="butt"/>
<line x1="171.8" y1="267.1" x2="176.2" y2="267.1" stroke="#222" stroke-width="1.4" stroke-linecap="butt"/>
<circle cx="174.0" cy="266.3" r="1.6" fill="#222"/>
<line x1="187.53" y1="260.6" x2="187.53" y2="263.6" stroke="#222" stroke-width="1.4" stroke-linecap="butt"/>
<line x1="185.33" y1="260.6" x2="189.73" y2="260.6" stroke="#222" stroke-width="1.4" stroke-linecap="butt"/>
<line x1="185.33" y1="263.6" x2="189.73" y2="263.6" stroke="#222" stroke-width="1.4" stroke-linecap="butt"/>
<circle cx="187.53" cy="262.1" r="1.6" fill="#222"/>
<line x1="201.06" y1="260.40000000000003" x2="201.06" y2="262.8" stroke="#222" stroke-width="1.4" stroke-linecap="butt"/>
<line x1="198.86" y1="260.40000000000003" x2="203.26" y2="260.40000000000003" stroke="#222" stroke-width="1.4" stroke-linecap="butt"/>
<line x1="198.86" y1="262.8" x2="203.26" y2="262.8" stroke="#222" stroke-width="1.4" stroke-linecap="butt"/>
<circle cx="201.06" cy="261.6" r="1.6" fill="#222"/>
<line x1="214.59" y1="267.20000000000005" x2="214.59" y2="278.0" stroke="#222" stroke-width="1.4" stroke-linecap="butt"/>
<line x1="212.39000000000001" y1="267.20000000000005" x2="216.79" y2="267.20000000000005" stroke="#222" stroke-width="1.4" stroke-linecap="butt"/>
<line x1="212.39000000000001" y1="278.0" x2="216.79" y2="278.0" stroke="#222" stroke-width="1.4" stroke-linecap="butt"/>
<circle cx="214.59" cy="272.6" r="1.6" fill="#222"/>
<line x1="228.12" y1="272.90000000000003" x2="228.12" y2="283.7" stroke="#222" stroke-width="1.4" stroke-linecap="butt"/>
<line x1="225.92000000000002" y1="272.90000000000003" x2="230.32" y2="272.90000000000003" stroke="#222" stroke-width="1.4" stroke-linecap="butt"/>
<line x1="225.92000000000002" y1="283.7" x2="230.32" y2="283.7" stroke="#222" stroke-width="1.4" stroke-linecap="butt"/>
<circle cx="228.12" cy="278.3" r="1.6" fill="#222"/>
<line x1="241.64999999999998" y1="287.8" x2="241.64999999999998" y2="300.59999999999997" stroke="#222" stroke-width="1.4" stroke-linecap="butt"/>
<line x1="239.45" y1="287.8" x2="243.84999999999997" y2="287.8" stroke="#222" stroke-width="1.4" stroke-linecap="butt"/>
<line x1="239.45" y1="300.59999999999997" x2="243.84999999999997" y2="300.59999999999997" stroke="#222" stroke-width="1.4" stroke-linecap="butt"/>
<circle cx="241.64999999999998" cy="294.2" r="1.6" fill="#222"/>
<line x1="255.18" y1="301.3" x2="255.18" y2="314.09999999999997" stroke="#222" stroke-width="1.4" stroke-linecap="butt"/>
<line x1="252.98000000000002" y1="301.3" x2="257.38" y2="301.3" stroke="#222" stroke-width="1.4" stroke-linecap="butt"/>
<line x1="252.98000000000002" y1="314.09999999999997" x2="257.38" y2="314.09999999999997" stroke="#222" stroke-width="1.4" stroke-linecap="butt"/>
<circle cx="255.18" cy="307.7" r="1.6" fill="#222"/>
<path d="M261.8,291.6 H264.5 V309 H261.8" stroke="#000" stroke-width="1.25" fill="none"/>
<text x="270.3" y="308.90" font-size="14" font-weight="bold" text-anchor="middle">*</text>
<path d="M273.0,292 H275.7 V310 H273.0" stroke="#000" stroke-width="1.25" fill="none"/>
<text x="282.2" y="308.90" font-size="14" font-weight="bold" text-anchor="middle">*</text>
<line x1="0" y1="275.5" x2="12.5" y2="275.5" stroke="#333" stroke-width="1.3" stroke-dasharray="2.2,1.6" stroke-linecap="butt"/>
<path d="M4.6,273.6 L8.2,275.5 L4.6,277.4 Z" fill="#333"/>
<text x="19.20" y="276.6" font-size="10.4" font-style="italic">c-Jun</text>
<text x="44.63" y="273.20" font-size="6.9" font-weight="bold" font-style="italic">loxp/loxp</text>
<text x="74.92" y="276.6" font-size="10.4" xml:space="preserve"> – Thbs1</text>
<line x1="0" y1="290.3" x2="12.0" y2="290.3" stroke="#333" stroke-width="1.3" stroke-linecap="butt"/>
<circle cx="6.0" cy="290.3" r="1.6" fill="#333"/>
<text x="19.20" y="292.9" font-size="10.4" font-style="italic">c-Jun</text>
<path d="M44.73,289.68 L49.93,289.68 L48.84,284.79 Z" fill="none" stroke="#222" stroke-width="0.62" stroke-linejoin="miter"/>
<text x="50.63" y="289.50" font-size="6.9" font-weight="bold" font-style="italic">AgRP</text>
<text x="69.41" y="292.9" font-size="10.4" xml:space="preserve"> – Thbs1</text>
<line x1="0" y1="305.8" x2="12.0" y2="305.8" stroke="#f05050" stroke-width="1.3" stroke-linecap="butt"/>
<circle cx="6.0" cy="305.8" r="1.6" fill="#f05050"/>
<text x="19.20" y="309.2" font-size="10.4" font-style="italic">c-Jun</text>
<path d="M44.73,305.98 L49.93,305.98 L48.84,301.09 Z" fill="none" stroke="#222" stroke-width="0.62" stroke-linejoin="miter"/>
<text x="50.63" y="305.80" font-size="6.9" font-weight="bold" font-style="italic">AgRP</text>
<text x="69.41" y="309.2" font-size="10.4" xml:space="preserve"> + Thbs1</text>
<text x="302.7" y="235.3" font-size="16" text-anchor="start" font-weight="bold" fill="#000">e</text>
<line x1="332" y1="249.2" x2="332" y2="331.7" stroke="#000" stroke-width="1.3" stroke-linecap="butt"/>
<line x1="331.4" y1="331.1" x2="431.9" y2="331.1" stroke="#000" stroke-width="1.3" stroke-linecap="butt"/>
<line x1="329.0" y1="249.20000000000002" x2="332" y2="249.20000000000002" stroke="#000" stroke-width="1.3" stroke-linecap="butt"/>
<text x="327.6" y="252.8" font-size="10" text-anchor="end" fill="#000">3</text>
<line x1="329.0" y1="276.5" x2="332" y2="276.5" stroke="#000" stroke-width="1.3" stroke-linecap="butt"/>
<text x="327.6" y="280.1" font-size="10" text-anchor="end" fill="#000">2</text>
<line x1="329.0" y1="303.8" x2="332" y2="303.8" stroke="#000" stroke-width="1.3" stroke-linecap="butt"/>
<text x="327.6" y="307.40000000000003" font-size="10" text-anchor="end" fill="#000">1</text>
<line x1="329.0" y1="331.1" x2="332" y2="331.1" stroke="#000" stroke-width="1.3" stroke-linecap="butt"/>
<text x="327.6" y="334.70000000000005" font-size="10" text-anchor="end" fill="#000">0</text>
<line x1="341.0" y1="331.1" x2="341.0" y2="334.6" stroke="#000" stroke-width="1.3" stroke-linecap="butt"/>
<text x="341.0" y="344.8" font-size="10" text-anchor="middle" fill="#000">0</text>
<line x1="354.48" y1="331.1" x2="354.48" y2="334.6" stroke="#000" stroke-width="1.3" stroke-linecap="butt"/>
<text x="354.48" y="344.8" font-size="10" text-anchor="middle" fill="#000">1</text>
<line x1="367.96" y1="331.1" x2="367.96" y2="334.6" stroke="#000" stroke-width="1.3" stroke-linecap="butt"/>
<text x="367.96" y="344.8" font-size="10" text-anchor="middle" fill="#000">2</text>
<line x1="381.44" y1="331.1" x2="381.44" y2="334.6" stroke="#000" stroke-width="1.3" stroke-linecap="butt"/>
<text x="381.44" y="344.8" font-size="10" text-anchor="middle" fill="#000">3</text>
<line x1="394.92" y1="331.1" x2="394.92" y2="334.6" stroke="#000" stroke-width="1.3" stroke-linecap="butt"/>
<text x="394.92" y="344.8" font-size="10" text-anchor="middle" fill="#000">4</text>
<line x1="408.4" y1="331.1" x2="408.4" y2="334.6" stroke="#000" stroke-width="1.3" stroke-linecap="butt"/>
<text x="408.4" y="344.8" font-size="10" text-anchor="middle" fill="#000">5</text>
<line x1="421.88" y1="331.1" x2="421.88" y2="334.6" stroke="#000" stroke-width="1.3" stroke-linecap="butt"/>
<text x="421.88" y="344.8" font-size="10" text-anchor="middle" fill="#000">6</text>
<text x="317.2" y="291.5" font-size="10" text-anchor="middle" fill="#000" transform="rotate(-90 317.2 291.5)">Diarrhea score</text>
<polyline points="367.96,331.10 381.44,327.00 394.92,317.72 408.40,317.72 421.88,310.90" fill="none" stroke="#f06a6a" stroke-width="1.5"/>
<circle cx="367.96" cy="331.1" r="0" fill="#f06a6a"/>
<line x1="381.44" y1="326.205" x2="381.44" y2="327.805" stroke="#f06a6a" stroke-width="1.4" stroke-linecap="butt"/>
<line x1="379.24" y1="326.205" x2="383.64" y2="326.205" stroke="#f06a6a" stroke-width="1.4" stroke-linecap="butt"/>
<line x1="379.24" y1="327.805" x2="383.64" y2="327.805" stroke="#f06a6a" stroke-width="1.4" stroke-linecap="butt"/>
<circle cx="381.44" cy="327.005" r="0" fill="#f06a6a"/>
<line x1="394.92" y1="312.423" x2="394.92" y2="323.023" stroke="#f06a6a" stroke-width="1.4" stroke-linecap="butt"/>
<line x1="392.72" y1="312.423" x2="397.12" y2="312.423" stroke="#f06a6a" stroke-width="1.4" stroke-linecap="butt"/>
<line x1="392.72" y1="323.023" x2="397.12" y2="323.023" stroke="#f06a6a" stroke-width="1.4" stroke-linecap="butt"/>
<circle cx="394.92" cy="317.723" r="0" fill="#f06a6a"/>
<line x1="408.4" y1="308.973" x2="408.4" y2="326.473" stroke="#f06a6a" stroke-width="1.4" stroke-linecap="butt"/>
<line x1="406.2" y1="308.973" x2="410.59999999999997" y2="308.973" stroke="#f06a6a" stroke-width="1.4" stroke-linecap="butt"/>
<line x1="406.2" y1="326.473" x2="410.59999999999997" y2="326.473" stroke="#f06a6a" stroke-width="1.4" stroke-linecap="butt"/>
<circle cx="408.4" cy="317.723" r="0" fill="#f06a6a"/>
<line x1="421.88" y1="300.99800000000005" x2="421.88" y2="320.798" stroke="#f06a6a" stroke-width="1.4" stroke-linecap="butt"/>
<line x1="419.68" y1="300.99800000000005" x2="424.08" y2="300.99800000000005" stroke="#f06a6a" stroke-width="1.4" stroke-linecap="butt"/>
<line x1="419.68" y1="320.798" x2="424.08" y2="320.798" stroke="#f06a6a" stroke-width="1.4" stroke-linecap="butt"/>
<circle cx="421.88" cy="310.898" r="0" fill="#f06a6a"/>
<polyline points="367.96,331.10 381.44,330.55 394.92,322.09 408.40,304.35 421.88,297.79" fill="none" stroke="#222" stroke-width="1.5" stroke-dasharray="3.5,2.2"/>
<line x1="394.92" y1="317.291" x2="394.92" y2="326.891" stroke="#222" stroke-width="1.4" stroke-linecap="butt"/>
<line x1="392.72" y1="317.291" x2="397.12" y2="317.291" stroke="#222" stroke-width="1.4" stroke-linecap="butt"/>
<line x1="392.72" y1="326.891" x2="397.12" y2="326.891" stroke="#222" stroke-width="1.4" stroke-linecap="butt"/>
<line x1="408.4" y1="299.546" x2="408.4" y2="309.146" stroke="#222" stroke-width="1.4" stroke-linecap="butt"/>
<line x1="406.2" y1="299.546" x2="410.59999999999997" y2="299.546" stroke="#222" stroke-width="1.4" stroke-linecap="butt"/>
<line x1="406.2" y1="309.146" x2="410.59999999999997" y2="309.146" stroke="#222" stroke-width="1.4" stroke-linecap="butt"/>
<line x1="421.88" y1="292.59400000000005" x2="421.88" y2="302.994" stroke="#222" stroke-width="1.4" stroke-linecap="butt"/>
<line x1="419.68" y1="292.59400000000005" x2="424.08" y2="292.59400000000005" stroke="#222" stroke-width="1.4" stroke-linecap="butt"/>
<line x1="419.68" y1="302.994" x2="424.08" y2="302.994" stroke="#222" stroke-width="1.4" stroke-linecap="butt"/>
<polyline points="367.96,331.10 381.44,317.45 394.92,301.07 408.40,273.77 421.88,266.95" fill="none" stroke="#222" stroke-width="1.6"/>
<line x1="381.44" y1="308.55000000000007" x2="381.44" y2="326.35" stroke="#222" stroke-width="1.4" stroke-linecap="butt"/>
<line x1="379.24" y1="308.55000000000007" x2="383.64" y2="308.55000000000007" stroke="#222" stroke-width="1.4" stroke-linecap="butt"/>
<line x1="379.24" y1="326.35" x2="383.64" y2="326.35" stroke="#222" stroke-width="1.4" stroke-linecap="butt"/>
<line x1="394.92" y1="292.87" x2="394.92" y2="309.27" stroke="#222" stroke-width="1.4" stroke-linecap="butt"/>
<line x1="392.72" y1="292.87" x2="397.12" y2="292.87" stroke="#222" stroke-width="1.4" stroke-linecap="butt"/>
<line x1="392.72" y1="309.27" x2="397.12" y2="309.27" stroke="#222" stroke-width="1.4" stroke-linecap="butt"/>
<line x1="408.4" y1="264.17" x2="408.4" y2="283.37000000000006" stroke="#222" stroke-width="1.4" stroke-linecap="butt"/>
<line x1="406.2" y1="264.17" x2="410.59999999999997" y2="264.17" stroke="#222" stroke-width="1.4" stroke-linecap="butt"/>
<line x1="406.2" y1="283.37000000000006" x2="410.59999999999997" y2="283.37000000000006" stroke="#222" stroke-width="1.4" stroke-linecap="butt"/>
<line x1="421.88" y1="260.14500000000004" x2="421.88" y2="273.74500000000006" stroke="#222" stroke-width="1.4" stroke-linecap="butt"/>
<line x1="419.68" y1="260.14500000000004" x2="424.08" y2="260.14500000000004" stroke="#222" stroke-width="1.4" stroke-linecap="butt"/>
<line x1="419.68" y1="273.74500000000006" x2="424.08" y2="273.74500000000006" stroke="#222" stroke-width="1.4" stroke-linecap="butt"/>
<circle cx="341.0" cy="331.1" r="1.3" fill="#333"/>
<circle cx="354.48" cy="331.1" r="1.3" fill="#333"/>
<circle cx="367.96" cy="331.1" r="1.3" fill="#333"/>
<path d="M429.0,267 H431.7 V301.7 H429.0" stroke="#000" stroke-width="1.25" fill="none"/>
<text x="436.3" y="295.20" font-size="14" font-weight="bold" text-anchor="middle">*</text>
<path d="M441.3,266.8 H444.0 V307.5 H441.3" stroke="#000" stroke-width="1.25" fill="none"/>
<text x="450.2" y="296.10" font-size="14" font-weight="bold" text-anchor="middle">*</text>
<text x="475.0" y="234.6" font-size="16" text-anchor="start" font-weight="bold" fill="#000">f</text>
<defs>
<linearGradient id="ph" x1="0" y1="0" x2="1" y2="1"><stop offset="0" stop-color="#e2e0db"/><stop offset="0.5" stop-color="#dddbd6"/><stop offset="1" stop-color="#d6d4cf"/></linearGradient>
<linearGradient id="rul" x1="0" y1="0" x2="1" y2="0"><stop offset="0" stop-color="#68655f"/><stop offset="0.5" stop-color="#75726c"/><stop offset="1" stop-color="#6a6762"/></linearGradient>
<linearGradient id="tube1" x1="0" y1="0" x2="1" y2="0"><stop offset="0" stop-color="#a78472"/><stop offset="0.7" stop-color="#b8907c"/><stop offset="1" stop-color="#e0b49a"/></linearGradient>
<linearGradient id="tube2" x1="0" y1="0" x2="1" y2="0"><stop offset="0" stop-color="#8e6458"/><stop offset="0.8" stop-color="#a97d70"/><stop offset="1" stop-color="#d9a890"/></linearGradient>
<radialGradient id="blob1" cx="0.5" cy="0.45" r="0.6"><stop offset="0" stop-color="#8a7a62"/><stop offset="1" stop-color="#5e5140"/></radialGradient>
<radialGradient id="blob2" cx="0.45" cy="0.4" r="0.6"><stop offset="0" stop-color="#7e5448"/><stop offset="1" stop-color="#4f2f28"/></radialGradient>
<radialGradient id="blob3" cx="0.45" cy="0.45" r="0.6"><stop offset="0" stop-color="#8a6a55"/><stop offset="1" stop-color="#5a3e30"/></radialGradient>
</defs>
<rect x="487.8" y="238.0" width="89.2" height="104.7" fill="url(#ph)"/>
<rect x="498.1" y="326.2" width="78.6" height="16.5" fill="url(#rul)"/>
<line x1="503.5" y1="327.5" x2="503.5" y2="330.5" stroke="#8d8a84" stroke-width="0.5" stroke-linecap="butt"/>
<line x1="511.1" y1="327.5" x2="511.1" y2="330.5" stroke="#8d8a84" stroke-width="0.5" stroke-linecap="butt"/>
<line x1="518.7" y1="327.5" x2="518.7" y2="330.5" stroke="#8d8a84" stroke-width="0.5" stroke-linecap="butt"/>
<line x1="526.3" y1="327.5" x2="526.3" y2="330.5" stroke="#8d8a84" stroke-width="0.5" stroke-linecap="butt"/>
<line x1="533.9" y1="327.5" x2="533.9" y2="330.5" stroke="#8d8a84" stroke-width="0.5" stroke-linecap="butt"/>
<line x1="541.5" y1="327.5" x2="541.5" y2="330.5" stroke="#8d8a84" stroke-width="0.5" stroke-linecap="butt"/>
<line x1="549.1" y1="327.5" x2="549.1" y2="330.5" stroke="#8d8a84" stroke-width="0.5" stroke-linecap="butt"/>
<line x1="556.7" y1="327.5" x2="556.7" y2="330.5" stroke="#8d8a84" stroke-width="0.5" stroke-linecap="butt"/>
<line x1="564.3" y1="327.5" x2="564.3" y2="330.5" stroke="#8d8a84" stroke-width="0.5" stroke-linecap="butt"/>
<line x1="571.9" y1="327.5" x2="571.9" y2="330.5" stroke="#8d8a84" stroke-width="0.5" stroke-linecap="butt"/>
<path d="M505,254.3 C525,254.8 545,254.2 567,254.4" stroke="#c2c0ba" stroke-width="2.2" fill="none"/>
<path d="M505,281.8 C520,282 535,281.6 549,281.8" stroke="#c2c0ba" stroke-width="2.2" fill="none"/>
<path d="M502,312.8 C525,313.2 545,312.8 566,312.8" stroke="#c2c0ba" stroke-width="2.2" fill="none"/>
<path d="M503.5,250.9 C520,251.5 540,251.3 567.8,251.8" stroke="url(#tube1)" stroke-width="3.3" fill="none" stroke-linecap="round"/>
<path d="M494.2,246.5 C494,242 497,240 500.5,240.2 C503.8,240.5 505,243 504.8,247 C504.6,251.5 502,254.3 498.5,254.2 C495.5,254 494.3,250.5 494.2,246.5 Z" fill="url(#blob1)"/>
<ellipse cx="528.5" cy="251.4" rx="3.0" ry="1.9" fill="#4a3d32"/>
<ellipse cx="537.2" cy="251.4" rx="3.4" ry="1.9" fill="#4a3d32"/>
<ellipse cx="549.8" cy="251.4" rx="3.4" ry="1.9" fill="#4a3d32"/>
<path d="M503.5,279.0 C520,279.3 535,279.2 549.5,279.6" stroke="url(#tube2)" stroke-width="3.0" fill="none" stroke-linecap="round"/>
<path d="M493.9,277 C494,273.8 497,272.2 500,272.3 C503.5,272.4 505.3,274.5 505,277.5 C504.6,280.8 502,282.8 499,282.7 C495.8,282.5 493.8,280 493.9,277 Z" fill="url(#blob2)"/>
<path d="M501,310.4 C520,310.8 545,310.3 566.5,310.0" stroke="url(#tube2)" stroke-width="3.4" fill="none" stroke-linecap="round"/>
<path d="M489.2,306.5 C489,302 492,299.2 496,299.1 C500,299 502.5,301.5 502.2,305.5 C502,310 500,314.3 495.5,314.4 C491.5,314.4 489.3,310.5 489.2,306.5 Z" fill="url(#blob3)"/>
<ellipse cx="533.0" cy="310.3" rx="3.5" ry="2.0" fill="#4a3028"/>
<ellipse cx="541.0" cy="310.3" rx="1.6" ry="2.0" fill="#4a3028"/>
<ellipse cx="548.9" cy="310.3" rx="3.0" ry="2.0" fill="#4a3028"/>
<g transform="translate(491.6 268.0) scale(0.925 1)" stroke="#000" stroke-width="0.25">
<text x="0.00" y="0" font-size="9.6" font-style="italic">c-Jun</text>
<text x="23.47" y="-3.60" font-size="6.4" font-weight="bold" font-style="italic">loxp/loxp</text>
<text x="51.57" y="0" font-size="9.6" xml:space="preserve"> – Thbs1</text>
</g>
<g transform="translate(493.8 296.0) scale(0.925 1)" stroke="#000" stroke-width="0.25">
<text x="0.00" y="0" font-size="9.6" font-style="italic">c-Jun</text>
<path d="M23.57,-2.98 L28.38,-2.98 L27.37,-7.49 Z" fill="none" stroke="#222" stroke-width="0.58" stroke-linejoin="miter"/>
<text x="29.07" y="-3.60" font-size="6.4" font-weight="bold" font-style="italic">AgRp</text>
<text x="46.14" y="0" font-size="9.6" xml:space="preserve"> – Thbs1</text>
</g>
<g transform="translate(491.6 323.1) scale(0.925 1)" stroke="#000" stroke-width="0.25">
<text x="0.00" y="0" font-size="9.6" font-style="italic">c-Jun</text>
<path d="M23.57,-2.98 L28.38,-2.98 L27.37,-7.49 Z" fill="none" stroke="#222" stroke-width="0.58" stroke-linejoin="miter"/>
<text x="29.07" y="-3.60" font-size="6.4" font-weight="bold" font-style="italic">AgRP</text>
<text x="46.50" y="0" font-size="9.6" xml:space="preserve"> + Thbs1</text>
</g>
<rect x="624.1" y="270.5485" width="12.5" height="60.95150000000001" fill="#fff" stroke="#000" stroke-width="1.3"/>
<rect x="644.5" y="278.4415" width="12.5" height="53.05849999999998" fill="#a09ea2" stroke="#000" stroke-width="1.3"/>
<rect x="664.4" y="270.11" width="12.5" height="61.389999999999986" fill="#f99b9b" stroke="#000" stroke-width="1.3"/>
<line x1="616.9" y1="243.4" x2="616.9" y2="332.1" stroke="#000" stroke-width="1.3" stroke-linecap="butt"/>
<line x1="616.3" y1="331.5" x2="685" y2="331.5" stroke="#000" stroke-width="1.3" stroke-linecap="butt"/>
<line x1="614.2" y1="243.8" x2="616.9" y2="243.8" stroke="#000" stroke-width="1.3" stroke-linecap="butt"/>
<text x="613.5" y="247.4" font-size="10" text-anchor="end" fill="#000">10</text>
<line x1="614.2" y1="261.34000000000003" x2="616.9" y2="261.34000000000003" stroke="#000" stroke-width="1.3" stroke-linecap="butt"/>
<text x="613.5" y="264.94000000000005" font-size="10" text-anchor="end" fill="#000">8</text>
<line x1="614.2" y1="278.88" x2="616.9" y2="278.88" stroke="#000" stroke-width="1.3" stroke-linecap="butt"/>
<text x="613.5" y="282.48" font-size="10" text-anchor="end" fill="#000">6</text>
<line x1="614.2" y1="296.42" x2="616.9" y2="296.42" stroke="#000" stroke-width="1.3" stroke-linecap="butt"/>
<text x="613.5" y="300.02000000000004" font-size="10" text-anchor="end" fill="#000">4</text>
<line x1="614.2" y1="313.96" x2="616.9" y2="313.96" stroke="#000" stroke-width="1.3" stroke-linecap="butt"/>
<text x="613.5" y="317.56" font-size="10" text-anchor="end" fill="#000">2</text>
<line x1="614.2" y1="331.5" x2="616.9" y2="331.5" stroke="#000" stroke-width="1.3" stroke-linecap="butt"/>
<text x="613.5" y="335.1" font-size="10" text-anchor="end" fill="#000">0</text>
<line x1="630.3" y1="331.5" x2="630.3" y2="334.5" stroke="#000" stroke-width="1.2" stroke-linecap="butt"/>
<line x1="650.7" y1="331.5" x2="650.7" y2="334.5" stroke="#000" stroke-width="1.2" stroke-linecap="butt"/>
<line x1="670.6" y1="331.5" x2="670.6" y2="334.5" stroke="#000" stroke-width="1.2" stroke-linecap="butt"/>
<line x1="630.3" y1="267.9175" x2="630.3" y2="273.1795" stroke="#000" stroke-width="1.6" stroke-linecap="butt"/>
<line x1="627.5" y1="267.9175" x2="633.0999999999999" y2="267.9175" stroke="#000" stroke-width="1.5" stroke-linecap="butt"/>
<line x1="627.5" y1="273.1795" x2="633.0999999999999" y2="273.1795" stroke="#000" stroke-width="1.5" stroke-linecap="butt"/>
<line x1="650.7" y1="276.249" x2="650.7" y2="280.634" stroke="#000" stroke-width="1.6" stroke-linecap="butt"/>
<line x1="647.9000000000001" y1="276.249" x2="653.5" y2="276.249" stroke="#000" stroke-width="1.5" stroke-linecap="butt"/>
<line x1="647.9000000000001" y1="280.634" x2="653.5" y2="280.634" stroke="#000" stroke-width="1.5" stroke-linecap="butt"/>
<line x1="670.6" y1="267.0405" x2="670.6" y2="273.1795" stroke="#000" stroke-width="1.6" stroke-linecap="butt"/>
<line x1="667.8000000000001" y1="267.0405" x2="673.4" y2="267.0405" stroke="#000" stroke-width="1.5" stroke-linecap="butt"/>
<line x1="667.8000000000001" y1="273.1795" x2="673.4" y2="273.1795" stroke="#000" stroke-width="1.5" stroke-linecap="butt"/>
<circle cx="629.5" cy="266" r="1.55" fill="#000"/>
<circle cx="631.8" cy="267.5" r="1.55" fill="#000"/>
<circle cx="627" cy="268.5" r="1.55" fill="#000"/>
<circle cx="634.6" cy="268.4" r="1.55" fill="#000"/>
<circle cx="626.6" cy="272.5" r="1.55" fill="#000"/>
<circle cx="633.5" cy="272.8" r="1.55" fill="#000"/>
<circle cx="629" cy="275" r="1.55" fill="#000"/>
<circle cx="630.8" cy="278.5" r="1.55" fill="#000"/>
<circle cx="649.5" cy="271.6" r="1.55" fill="#000"/>
<circle cx="651" cy="274.5" r="1.55" fill="#000"/>
<circle cx="645.6" cy="276" r="1.55" fill="#000"/>
<circle cx="655.6" cy="278.6" r="1.55" fill="#000"/>
<circle cx="648" cy="279.2" r="1.55" fill="#000"/>
<circle cx="653" cy="280.5" r="1.55" fill="#000"/>
<circle cx="650.5" cy="287.2" r="1.55" fill="#000"/>
<circle cx="669" cy="260.3" r="1.55" fill="#000"/>
<circle cx="672.5" cy="262.5" r="1.55" fill="#000"/>
<circle cx="666" cy="269.5" r="1.55" fill="#000"/>
<circle cx="674.3" cy="272.8" r="1.55" fill="#000"/>
<circle cx="668" cy="272.5" r="1.55" fill="#000"/>
<circle cx="670.8" cy="279.2" r="1.55" fill="#000"/>
<path d="M631.0,255.9 V253.5 H648.7 V255.9" stroke="#000" stroke-width="1.25" fill="none"/>
<text x="639.85" y="256.30" font-size="14" font-weight="bold" text-anchor="middle">*</text>
<path d="M651.3,245.4 V243.0 H669.0 V245.4" stroke="#000" stroke-width="1.25" fill="none"/>
<text x="660.15" y="245.80" font-size="14" font-weight="bold" text-anchor="middle">*</text>
<text x="598.3" y="288.5" font-size="10" text-anchor="middle" fill="#000" transform="rotate(-90 598.3 288.5)">Colon length (cm)</text>
<text x="6.3" y="397.6" font-size="16" text-anchor="start" font-weight="bold" fill="#000">g</text>
<text x="20.63" y="413.0" font-size="10" font-style="italic">c-Jun</text>
<text x="45.08" y="409.90" font-size="6.9" font-weight="bold" font-style="italic">loxp/loxp</text>
<text x="48.0" y="425.4" font-size="10" text-anchor="middle" fill="#000">− Thbs1</text>
<text x="96.48" y="413.0" font-size="10" font-style="italic">c-Jun</text>
<path d="M121.04,409.90 L126.04,409.90 L124.99,405.20 Z" fill="none" stroke="#222" stroke-width="0.60" stroke-linejoin="miter"/>
<text x="126.74" y="409.90" font-size="6.9" font-weight="bold" font-style="italic">AgRP</text>
<text x="121.0" y="425.4" font-size="10" text-anchor="middle" fill="#000">− Thbs1</text>
<text x="172.48" y="413.0" font-size="10" font-style="italic">c-Jun</text>
<path d="M197.04,409.90 L202.04,409.90 L200.99,405.20 Z" fill="none" stroke="#222" stroke-width="0.60" stroke-linejoin="miter"/>
<text x="202.74" y="409.90" font-size="6.9" font-weight="bold" font-style="italic">AgRP</text>
<text x="197.0" y="425.4" font-size="10" text-anchor="middle" fill="#000">+ Thbs1</text>
<defs>
<pattern id="mucpat" x="0" y="0" width="23" height="23" patternUnits="userSpaceOnUse">
<rect width="23" height="23" fill="#a08aac"/>
<circle cx="10.4" cy="12.9" r="1.1" fill="#c6cfca" opacity="0.85"/>
<circle cx="10.7" cy="11.7" r="0.9" fill="#c6cfca" opacity="0.85"/>
<circle cx="4.2" cy="11.8" r="0.9" fill="#c6cfca" opacity="0.85"/>
<circle cx="18.2" cy="2.2" r="0.7" fill="#c6cfca" opacity="0.85"/>
<circle cx="2.1" cy="18.6" r="0.9" fill="#c6cfca" opacity="0.85"/>
<circle cx="1.0" cy="22.6" r="1.1" fill="#c6cfca" opacity="0.85"/>
<circle cx="15.0" cy="14.2" r="0.6" fill="#c6cfca" opacity="0.85"/>
<circle cx="0.3" cy="12.2" r="0.5" fill="#c6cfca" opacity="0.85"/>
<circle cx="4.4" cy="5.6" r="0.5" fill="#c6cfca" opacity="0.85"/>
<circle cx="10.7" cy="10.1" r="1.0" fill="#c6cfca" opacity="0.85"/>
<circle cx="11.9" cy="14.7" r="0.8" fill="#c6cfca" opacity="0.85"/>
<circle cx="15.2" cy="10.5" r="0.7" fill="#c6cfca" opacity="0.85"/>
<circle cx="22.9" cy="22.9" r="1.0" fill="#c6cfca" opacity="0.85"/>
<circle cx="16.3" cy="7.3" r="0.6" fill="#c6cfca" opacity="0.85"/>
<circle cx="6.6" cy="1.6" r="1.0" fill="#c6cfca" opacity="0.85"/>
<circle cx="9.2" cy="19.5" r="0.7" fill="#c6cfca" opacity="0.85"/>
<circle cx="22.0" cy="19.5" r="0.5" fill="#c6cfca" opacity="0.85"/>
<circle cx="4.8" cy="20.9" r="0.8" fill="#c6cfca" opacity="0.85"/>
<circle cx="22.5" cy="9.1" r="0.5" fill="#c6cfca" opacity="0.85"/>
<circle cx="14.5" cy="17.9" r="0.7" fill="#c6cfca" opacity="0.85"/>
<circle cx="2.0" cy="7.6" r="1.1" fill="#c6cfca" opacity="0.85"/>
<circle cx="17.4" cy="2.7" r="0.6" fill="#c6cfca" opacity="0.85"/>
<circle cx="2.3" cy="1.4" r="1.0" fill="#c6cfca" opacity="0.85"/>
<circle cx="4.1" cy="12.9" r="0.8" fill="#c6cfca" opacity="0.85"/>
<circle cx="4.4" cy="16.8" r="0.6" fill="#c6cfca" opacity="0.85"/>
<circle cx="14.8" cy="2.7" r="0.8" fill="#c6cfca" opacity="0.85"/>
<circle cx="4.9" cy="6.2" r="1.1" fill="#c6cfca" opacity="0.85"/>
<circle cx="18.5" cy="7.0" r="1.0" fill="#c6cfca" opacity="0.85"/>
<circle cx="4.8" cy="9.1" r="1.0" fill="#c6cfca" opacity="0.85"/>
<circle cx="14.8" cy="2.3" r="1.1" fill="#c6cfca" opacity="0.85"/>
<circle cx="4.9" cy="5.9" r="1.0" fill="#c6cfca" opacity="0.85"/>
<circle cx="7.6" cy="6.8" r="0.5" fill="#c6cfca" opacity="0.85"/>
<circle cx="2.1" cy="13.4" r="0.6" fill="#c6cfca" opacity="0.85"/>
<circle cx="13.8" cy="8.5" r="0.8" fill="#c6cfca" opacity="0.85"/>
<circle cx="22.1" cy="11.1" r="0.8" fill="#c6cfca" opacity="0.85"/>
<circle cx="19.9" cy="4.2" r="0.6" fill="#c6cfca" opacity="0.85"/>
<circle cx="20.9" cy="18.8" r="0.6" fill="#c6cfca" opacity="0.85"/>
<circle cx="4.4" cy="17.0" r="1.1" fill="#c6cfca" opacity="0.85"/>
<circle cx="4.5" cy="21.9" r="0.7" fill="#5a4680" opacity="0.8"/>
<circle cx="13.9" cy="9.7" r="0.4" fill="#5a4680" opacity="0.8"/>
<circle cx="0.9" cy="22.1" r="0.4" fill="#5a4680" opacity="0.8"/>
<circle cx="16.2" cy="5.9" r="0.6" fill="#5a4680" opacity="0.8"/>
<circle cx="13.7" cy="6.7" r="0.4" fill="#5a4680" opacity="0.8"/>
<circle cx="16.6" cy="1.6" r="0.4" fill="#5a4680" opacity="0.8"/>
<circle cx="12.9" cy="19.6" r="0.6" fill="#5a4680" opacity="0.8"/>
<circle cx="6.4" cy="21.1" r="0.4" fill="#5a4680" opacity="0.8"/>
<circle cx="0.4" cy="6.2" r="0.5" fill="#5a4680" opacity="0.8"/>
<circle cx="1.4" cy="4.1" r="0.5" fill="#5a4680" opacity="0.8"/>
<circle cx="13.2" cy="3.0" r="0.5" fill="#5a4680" opacity="0.8"/>
<circle cx="20.5" cy="22.6" r="0.6" fill="#5a4680" opacity="0.8"/>
<circle cx="15.9" cy="13.4" r="0.4" fill="#5a4680" opacity="0.8"/>
<circle cx="0.8" cy="0.4" r="0.7" fill="#5a4680" opacity="0.8"/>
<circle cx="16.1" cy="22.1" r="0.4" fill="#5a4680" opacity="0.8"/>
<circle cx="14.6" cy="11.1" r="0.6" fill="#5a4680" opacity="0.8"/>
<circle cx="7.3" cy="23.0" r="0.4" fill="#5a4680" opacity="0.8"/>
<circle cx="12.6" cy="17.0" r="0.7" fill="#5a4680" opacity="0.8"/>
<circle cx="17.0" cy="16.2" r="0.6" fill="#5a4680" opacity="0.8"/>
<circle cx="21.0" cy="8.1" r="0.6" fill="#5a4680" opacity="0.8"/>
<circle cx="20.7" cy="20.0" r="0.5" fill="#5a4680" opacity="0.8"/>
<circle cx="18.2" cy="19.9" r="0.6" fill="#5a4680" opacity="0.8"/>
<circle cx="14.4" cy="8.8" r="0.6" fill="#5a4680" opacity="0.8"/>
<circle cx="14.0" cy="1.8" r="0.6" fill="#5a4680" opacity="0.8"/>
<circle cx="22.8" cy="20.2" r="0.6" fill="#5a4680" opacity="0.8"/>
<circle cx="8.9" cy="16.9" r="0.6" fill="#5a4680" opacity="0.8"/>
<circle cx="10.1" cy="19.3" r="0.4" fill="#5a4680" opacity="0.8"/>
<circle cx="17.3" cy="0.7" r="0.6" fill="#5a4680" opacity="0.8"/>
<circle cx="11.1" cy="5.3" r="0.6" fill="#5a4680" opacity="0.8"/>
<circle cx="11.4" cy="14.1" r="0.7" fill="#5a4680" opacity="0.8"/>
<circle cx="5.9" cy="0.3" r="0.5" fill="#5a4680" opacity="0.8"/>
<circle cx="15.6" cy="4.7" r="0.4" fill="#5a4680" opacity="0.8"/>
<circle cx="20.8" cy="15.2" r="0.5" fill="#5a4680" opacity="0.8"/>
<circle cx="20.5" cy="7.5" r="0.6" fill="#5a4680" opacity="0.8"/>
<circle cx="4.6" cy="9.9" r="0.6" fill="#5a4680" opacity="0.8"/>
<circle cx="21.0" cy="20.2" r="0.5" fill="#5a4680" opacity="0.8"/>
<circle cx="13.4" cy="7.3" r="0.4" fill="#5a4680" opacity="0.8"/>
<circle cx="11.4" cy="19.3" r="0.6" fill="#5a4680" opacity="0.8"/>
<circle cx="16.4" cy="21.9" r="0.4" fill="#5a4680" opacity="0.8"/>
<circle cx="3.9" cy="10.4" r="0.4" fill="#5a4680" opacity="0.8"/>
<circle cx="4.9" cy="9.5" r="0.6" fill="#5a4680" opacity="0.8"/>
<circle cx="11.4" cy="7.3" r="0.6" fill="#5a4680" opacity="0.8"/>
<circle cx="22.6" cy="10.4" r="0.4" fill="#5a4680" opacity="0.8"/>
<circle cx="0.7" cy="20.1" r="0.4" fill="#5a4680" opacity="0.8"/>
<circle cx="16.3" cy="13.1" r="0.5" fill="#5a4680" opacity="0.8"/>
<circle cx="18.2" cy="0.4" r="0.4" fill="#5a4680" opacity="0.8"/>
<circle cx="10.5" cy="0.6" r="0.6" fill="#5a4680" opacity="0.8"/>
<circle cx="5.5" cy="3.2" r="0.4" fill="#5a4680" opacity="0.8"/>
<circle cx="14.5" cy="10.3" r="0.6" fill="#5a4680" opacity="0.8"/>
<circle cx="15.1" cy="18.6" r="0.7" fill="#5a4680" opacity="0.8"/>
<circle cx="15.7" cy="4.6" r="0.5" fill="#5a4680" opacity="0.8"/>
<circle cx="4.1" cy="0.2" r="0.5" fill="#5a4680" opacity="0.8"/>
<circle cx="16.4" cy="4.1" r="0.4" fill="#5a4680" opacity="0.8"/>
<circle cx="8.0" cy="16.0" r="0.5" fill="#5a4680" opacity="0.8"/>
<circle cx="14.1" cy="17.4" r="0.5" fill="#5a4680" opacity="0.8"/>
<circle cx="18.2" cy="20.8" r="0.4" fill="#5a4680" opacity="0.8"/>
<circle cx="21.4" cy="16.6" r="0.4" fill="#5a4680" opacity="0.8"/>
<circle cx="10.4" cy="14.4" r="0.7" fill="#5a4680" opacity="0.8"/>
<circle cx="8.7" cy="13.1" r="0.7" fill="#5a4680" opacity="0.8"/>
<circle cx="18.3" cy="21.7" r="0.5" fill="#5a4680" opacity="0.8"/>
<circle cx="15.0" cy="4.7" r="0.6" fill="#5a4680" opacity="0.8"/>
<circle cx="18.8" cy="14.8" r="0.6" fill="#5a4680" opacity="0.8"/>
<circle cx="4.9" cy="20.7" r="0.7" fill="#5a4680" opacity="0.8"/>
<circle cx="22.5" cy="12.4" r="0.6" fill="#5a4680" opacity="0.8"/>
<circle cx="7.4" cy="20.9" r="0.6" fill="#5a4680" opacity="0.8"/>
<circle cx="8.0" cy="1.9" r="0.5" fill="#5a4680" opacity="0.8"/>
<circle cx="12.7" cy="17.7" r="0.5" fill="#5a4680" opacity="0.8"/>
<circle cx="0.7" cy="18.6" r="0.4" fill="#5a4680" opacity="0.8"/>
<circle cx="18.4" cy="4.0" r="0.5" fill="#5a4680" opacity="0.8"/>
<circle cx="18.1" cy="3.2" r="0.4" fill="#5a4680" opacity="0.8"/>
</pattern>
<pattern id="mucpat2" x="0" y="0" width="23" height="23" patternUnits="userSpaceOnUse">
<rect width="23" height="23" fill="#b6a0bc"/>
<circle cx="11.9" cy="16.6" r="1.0" fill="#d8dad6" opacity="0.8"/>
<circle cx="15.9" cy="21.8" r="0.8" fill="#d8dad6" opacity="0.8"/>
<circle cx="21.8" cy="2.0" r="0.6" fill="#d8dad6" opacity="0.8"/>
<circle cx="12.1" cy="6.7" r="0.9" fill="#d8dad6" opacity="0.8"/>
<circle cx="14.7" cy="12.0" r="1.0" fill="#d8dad6" opacity="0.8"/>
<circle cx="12.9" cy="7.2" r="0.7" fill="#d8dad6" opacity="0.8"/>
<circle cx="19.4" cy="20.7" r="0.6" fill="#d8dad6" opacity="0.8"/>
<circle cx="19.6" cy="22.3" r="0.8" fill="#d8dad6" opacity="0.8"/>
<circle cx="13.2" cy="4.6" r="0.8" fill="#d8dad6" opacity="0.8"/>
<circle cx="11.6" cy="13.9" r="0.5" fill="#d8dad6" opacity="0.8"/>
<circle cx="22.3" cy="11.9" r="0.7" fill="#d8dad6" opacity="0.8"/>
<circle cx="18.4" cy="12.9" r="0.8" fill="#d8dad6" opacity="0.8"/>
<circle cx="15.9" cy="1.5" r="0.8" fill="#d8dad6" opacity="0.8"/>
<circle cx="9.5" cy="22.0" r="1.1" fill="#d8dad6" opacity="0.8"/>
<circle cx="6.2" cy="10.9" r="0.6" fill="#d8dad6" opacity="0.8"/>
<circle cx="10.0" cy="18.8" r="1.0" fill="#d8dad6" opacity="0.8"/>
<circle cx="11.0" cy="7.3" r="0.6" fill="#d8dad6" opacity="0.8"/>
<circle cx="14.2" cy="21.3" r="0.6" fill="#d8dad6" opacity="0.8"/>
<circle cx="17.9" cy="0.5" r="0.6" fill="#d8dad6" opacity="0.8"/>
<circle cx="5.2" cy="15.8" r="0.7" fill="#d8dad6" opacity="0.8"/>
<circle cx="8.2" cy="14.3" r="0.6" fill="#d8dad6" opacity="0.8"/>
<circle cx="16.8" cy="2.8" r="0.8" fill="#d8dad6" opacity="0.8"/>
<circle cx="5.8" cy="4.5" r="0.8" fill="#d8dad6" opacity="0.8"/>
<circle cx="10.0" cy="8.6" r="0.7" fill="#d8dad6" opacity="0.8"/>
<circle cx="12.2" cy="3.7" r="0.6" fill="#d8dad6" opacity="0.8"/>
<circle cx="14.5" cy="14.7" r="0.8" fill="#d8dad6" opacity="0.8"/>
<circle cx="19.6" cy="14.1" r="1.0" fill="#d8dad6" opacity="0.8"/>
<circle cx="5.4" cy="17.0" r="1.0" fill="#d8dad6" opacity="0.8"/>
<circle cx="20.8" cy="7.3" r="0.7" fill="#d8dad6" opacity="0.8"/>
<circle cx="21.2" cy="5.0" r="1.1" fill="#d8dad6" opacity="0.8"/>
<circle cx="20.4" cy="3.1" r="0.6" fill="#d8dad6" opacity="0.8"/>
<circle cx="16.7" cy="6.0" r="0.6" fill="#d8dad6" opacity="0.8"/>
<circle cx="19.1" cy="9.7" r="1.0" fill="#d8dad6" opacity="0.8"/>
<circle cx="2.9" cy="9.3" r="0.9" fill="#d8dad6" opacity="0.8"/>
<circle cx="0.4" cy="4.6" r="0.9" fill="#d8dad6" opacity="0.8"/>
<circle cx="21.0" cy="22.3" r="0.6" fill="#d8dad6" opacity="0.8"/>
<circle cx="11.6" cy="17.4" r="0.8" fill="#d8dad6" opacity="0.8"/>
<circle cx="15.8" cy="4.3" r="0.5" fill="#d8dad6" opacity="0.8"/>
<circle cx="2.4" cy="0.9" r="0.8" fill="#d8dad6" opacity="0.8"/>
<circle cx="11.8" cy="13.1" r="0.6" fill="#d8dad6" opacity="0.8"/>
<circle cx="4.2" cy="4.7" r="0.6" fill="#64508a" opacity="0.8"/>
<circle cx="22.8" cy="21.3" r="0.4" fill="#64508a" opacity="0.8"/>
<circle cx="1.4" cy="21.9" r="0.5" fill="#64508a" opacity="0.8"/>
<circle cx="17.6" cy="7.5" r="0.5" fill="#64508a" opacity="0.8"/>
<circle cx="11.9" cy="9.9" r="0.6" fill="#64508a" opacity="0.8"/>
<circle cx="0.3" cy="16.1" r="0.6" fill="#64508a" opacity="0.8"/>
<circle cx="4.2" cy="10.4" r="0.6" fill="#64508a" opacity="0.8"/>
<circle cx="9.3" cy="4.5" r="0.4" fill="#64508a" opacity="0.8"/>
<circle cx="11.8" cy="0.4" r="0.7" fill="#64508a" opacity="0.8"/>
<circle cx="18.4" cy="16.2" r="0.7" fill="#64508a" opacity="0.8"/>
<circle cx="14.5" cy="9.3" r="0.6" fill="#64508a" opacity="0.8"/>
<circle cx="11.6" cy="22.6" r="0.6" fill="#64508a" opacity="0.8"/>
<circle cx="5.9" cy="21.0" r="0.6" fill="#64508a" opacity="0.8"/>
<circle cx="17.9" cy="18.7" r="0.5" fill="#64508a" opacity="0.8"/>
<circle cx="20.6" cy="20.2" r="0.6" fill="#64508a" opacity="0.8"/>
<circle cx="17.6" cy="17.6" r="0.5" fill="#64508a" opacity="0.8"/>
<circle cx="16.6" cy="1.6" r="0.5" fill="#64508a" opacity="0.8"/>
<circle cx="10.8" cy="0.2" r="0.5" fill="#64508a" opacity="0.8"/>
<circle cx="14.7" cy="14.4" r="0.4" fill="#64508a" opacity="0.8"/>
<circle cx="21.7" cy="15.3" r="0.5" fill="#64508a" opacity="0.8"/>
<circle cx="15.2" cy="13.1" r="0.5" fill="#64508a" opacity="0.8"/>
<circle cx="9.0" cy="23.0" r="0.6" fill="#64508a" opacity="0.8"/>
<circle cx="16.1" cy="17.5" r="0.7" fill="#64508a" opacity="0.8"/>
<circle cx="0.5" cy="14.2" r="0.6" fill="#64508a" opacity="0.8"/>
<circle cx="5.9" cy="9.2" r="0.4" fill="#64508a" opacity="0.8"/>
<circle cx="4.5" cy="8.6" r="0.4" fill="#64508a" opacity="0.8"/>
<circle cx="5.8" cy="20.8" r="0.5" fill="#64508a" opacity="0.8"/>
<circle cx="11.7" cy="22.2" r="0.5" fill="#64508a" opacity="0.8"/>
<circle cx="22.9" cy="14.7" r="0.6" fill="#64508a" opacity="0.8"/>
<circle cx="1.8" cy="13.7" r="0.6" fill="#64508a" opacity="0.8"/>
<circle cx="1.0" cy="21.4" r="0.4" fill="#64508a" opacity="0.8"/>
<circle cx="10.9" cy="3.9" r="0.5" fill="#64508a" opacity="0.8"/>
<circle cx="14.1" cy="1.3" r="0.7" fill="#64508a" opacity="0.8"/>
<circle cx="9.7" cy="12.1" r="0.6" fill="#64508a" opacity="0.8"/>
<circle cx="8.4" cy="6.6" r="0.6" fill="#64508a" opacity="0.8"/>
<circle cx="12.9" cy="6.5" r="0.6" fill="#64508a" opacity="0.8"/>
<circle cx="6.8" cy="0.3" r="0.4" fill="#64508a" opacity="0.8"/>
<circle cx="1.0" cy="3.6" r="0.6" fill="#64508a" opacity="0.8"/>
<circle cx="9.0" cy="20.6" r="0.6" fill="#64508a" opacity="0.8"/>
<circle cx="1.2" cy="22.7" r="0.7" fill="#64508a" opacity="0.8"/>
<circle cx="1.7" cy="20.8" r="0.5" fill="#64508a" opacity="0.8"/>
<circle cx="11.0" cy="22.4" r="0.4" fill="#64508a" opacity="0.8"/>
<circle cx="12.0" cy="21.6" r="0.6" fill="#64508a" opacity="0.8"/>
<circle cx="10.8" cy="22.5" r="0.6" fill="#64508a" opacity="0.8"/>
<circle cx="13.9" cy="2.6" r="0.6" fill="#64508a" opacity="0.8"/>
<circle cx="10.5" cy="4.7" r="0.4" fill="#64508a" opacity="0.8"/>
<circle cx="12.1" cy="2.9" r="0.5" fill="#64508a" opacity="0.8"/>
<circle cx="15.4" cy="10.5" r="0.4" fill="#64508a" opacity="0.8"/>
<circle cx="13.4" cy="9.6" r="0.6" fill="#64508a" opacity="0.8"/>
<circle cx="12.2" cy="22.9" r="0.7" fill="#64508a" opacity="0.8"/>
<circle cx="16.9" cy="5.5" r="0.4" fill="#64508a" opacity="0.8"/>
<circle cx="20.5" cy="18.0" r="0.6" fill="#64508a" opacity="0.8"/>
<circle cx="8.3" cy="6.2" r="0.6" fill="#64508a" opacity="0.8"/>
<circle cx="13.0" cy="13.6" r="0.6" fill="#64508a" opacity="0.8"/>
<circle cx="17.3" cy="4.4" r="0.4" fill="#64508a" opacity="0.8"/>
<circle cx="22.5" cy="21.1" r="0.7" fill="#64508a" opacity="0.8"/>
<circle cx="0.9" cy="1.4" r="0.4" fill="#64508a" opacity="0.8"/>
<circle cx="9.8" cy="14.3" r="0.4" fill="#64508a" opacity="0.8"/>
<circle cx="12.5" cy="1.7" r="0.4" fill="#64508a" opacity="0.8"/>
<circle cx="15.6" cy="12.7" r="0.6" fill="#64508a" opacity="0.8"/>
<circle cx="8.6" cy="11.0" r="0.4" fill="#64508a" opacity="0.8"/>
<circle cx="7.9" cy="17.1" r="0.6" fill="#64508a" opacity="0.8"/>
<circle cx="1.7" cy="2.8" r="0.6" fill="#64508a" opacity="0.8"/>
<circle cx="14.3" cy="17.7" r="0.4" fill="#64508a" opacity="0.8"/>
<circle cx="9.8" cy="5.9" r="0.6" fill="#64508a" opacity="0.8"/>
<circle cx="8.5" cy="15.0" r="0.7" fill="#64508a" opacity="0.8"/>
<circle cx="7.5" cy="12.6" r="0.6" fill="#64508a" opacity="0.8"/>
<circle cx="21.2" cy="9.8" r="0.5" fill="#64508a" opacity="0.8"/>
<circle cx="2.2" cy="20.1" r="0.4" fill="#64508a" opacity="0.8"/>
<circle cx="1.9" cy="13.0" r="0.5" fill="#64508a" opacity="0.8"/>
<circle cx="15.8" cy="6.9" r="0.6" fill="#64508a" opacity="0.8"/>
<circle cx="1.7" cy="4.9" r="0.6" fill="#64508a" opacity="0.8"/>
<circle cx="1.9" cy="7.0" r="0.6" fill="#64508a" opacity="0.8"/>
<circle cx="16.0" cy="6.5" r="0.4" fill="#64508a" opacity="0.8"/>
<circle cx="8.2" cy="16.7" r="0.5" fill="#64508a" opacity="0.8"/>
</pattern>
<pattern id="subpat" x="0" y="0" width="19" height="19" patternUnits="userSpaceOnUse">
<rect width="19" height="19" fill="#d6e9d8"/>
<circle cx="2.2" cy="13.5" r="0.4" fill="#6f5a92" opacity="0.7"/>
<circle cx="17.5" cy="17.9" r="0.5" fill="#6f5a92" opacity="0.7"/>
<circle cx="8.3" cy="15.3" r="0.4" fill="#6f5a92" opacity="0.7"/>
<circle cx="6.0" cy="7.6" r="0.5" fill="#6f5a92" opacity="0.7"/>
<circle cx="17.0" cy="4.7" r="0.4" fill="#6f5a92" opacity="0.7"/>
<circle cx="6.9" cy="6.9" r="0.4" fill="#6f5a92" opacity="0.7"/>
<circle cx="7.4" cy="3.7" r="0.4" fill="#6f5a92" opacity="0.7"/>
<circle cx="15.1" cy="10.3" r="0.5" fill="#6f5a92" opacity="0.7"/>
<circle cx="10.7" cy="3.4" r="0.5" fill="#6f5a92" opacity="0.7"/>
<circle cx="16.7" cy="5.3" r="0.8" fill="#e6d0da" opacity="0.6"/>
<circle cx="9.8" cy="10.3" r="1.1" fill="#e6d0da" opacity="0.6"/>
<circle cx="18.4" cy="12.4" r="1.2" fill="#e6d0da" opacity="0.6"/>
<circle cx="1.2" cy="10.4" r="1.2" fill="#e6d0da" opacity="0.6"/>
<circle cx="1.6" cy="1.6" r="1.2" fill="#e6d0da" opacity="0.6"/>
</pattern>
<pattern id="pinkpat" x="0" y="0" width="17" height="17" patternUnits="userSpaceOnUse">
<rect width="17" height="17" fill="#d7a7bf"/>
<circle cx="15.3" cy="1.4" r="0.6" fill="#7a4a86" opacity="0.7"/>
<circle cx="2.4" cy="12.7" r="0.6" fill="#7a4a86" opacity="0.7"/>
<circle cx="4.2" cy="3.7" r="0.6" fill="#7a4a86" opacity="0.7"/>
<circle cx="8.9" cy="13.0" r="0.5" fill="#7a4a86" opacity="0.7"/>
<circle cx="5.7" cy="16.5" r="0.6" fill="#7a4a86" opacity="0.7"/>
<circle cx="8.4" cy="9.1" r="0.6" fill="#7a4a86" opacity="0.7"/>
<circle cx="12.0" cy="15.6" r="0.5" fill="#7a4a86" opacity="0.7"/>
<circle cx="14.0" cy="11.3" r="0.6" fill="#7a4a86" opacity="0.7"/>
<circle cx="13.7" cy="14.2" r="0.7" fill="#7a4a86" opacity="0.7"/>
<circle cx="16.3" cy="10.9" r="0.5" fill="#7a4a86" opacity="0.7"/>
<circle cx="12.1" cy="13.6" r="0.5" fill="#7a4a86" opacity="0.7"/>
<circle cx="7.1" cy="2.5" r="0.6" fill="#7a4a86" opacity="0.7"/>
<circle cx="16.8" cy="6.4" r="0.7" fill="#ecd6e0" opacity="0.6"/>
<circle cx="3.5" cy="7.2" r="0.7" fill="#ecd6e0" opacity="0.6"/>
<circle cx="16.5" cy="1.0" r="0.8" fill="#ecd6e0" opacity="0.6"/>
<circle cx="2.0" cy="11.0" r="1.0" fill="#ecd6e0" opacity="0.6"/>
<circle cx="3.1" cy="1.1" r="0.8" fill="#ecd6e0" opacity="0.6"/>
<circle cx="9.9" cy="15.5" r="0.6" fill="#ecd6e0" opacity="0.6"/>
<circle cx="1.8" cy="3.1" r="0.7" fill="#ecd6e0" opacity="0.6"/>
<circle cx="4.0" cy="12.2" r="0.9" fill="#ecd6e0" opacity="0.6"/>
</pattern>
<clipPath id="gc"><rect x="0" y="0" width="61.2" height="61.5"/></clipPath>
</defs>
<g transform="translate(18.9,430.1)"><g clip-path="url(#gc)">
<rect x="0" y="0" width="61.2" height="61.5" fill="#cde6d3"/>
<path d="M0,59 C15,59 30,57 45,54 C52,52 58,51 62,50 L62,62 L0,62 Z" fill="url(#pinkpat)" />
<path d="M0,54 C15,54 28,50 38,40 C46,30 52,20 62,15 L62,50 C55,51 45,54 30,57 L0,59 Z" fill="url(#subpat)" />
<path d="M30,0 L62,0 L62,11 C54,13 47,19 41,28 C34,38 26,46 12,49 L0,50 L0,17 C4,17 7,22 9,28 L11,33 C13,27 16,18 21,12 C25,7 28,3 30,0 Z" fill="url(#mucpat)" />
<path d="M62,10 C54,12 47,18 41,27 C34,37 26,46 12,49 L0,50 L0,52.5 L12,52 C28,49.5 37,39.5 44,29.5 C50,20.5 55,15 62,12.8 Z" fill="url(#pinkpat)" />
<path d="M0,0 L30,0 C28,3 25,7 21,12 C16,18 13,27 11,33 L9,28 C7,22 4,17 0,17 Z" fill="#cde6d3" />
<path d="M30,0 C28,3 25,7 21,12 C16,18 13,27 11,33 L9,28 C7,22 4,17 0,17" fill="none" stroke="#7a4e90" stroke-width="2.4" stroke-opacity="0.8"/>
<path d="M24,10 L36,20 M19,17 L33,27 M16,24 L29,35 M13,31 L24,42 M9,36 L15,46 M4,30 L5,46 M31,4 L42,13 M37,1 L47,9" fill="none" fill="none" stroke="#7d5592" stroke-width="1.8" stroke-opacity="0.4" stroke-linecap="round"/>
</g></g>
<line x1="22.4" y1="484.6" x2="35.6" y2="484.6" stroke="#000" stroke-width="1.8" stroke-linecap="butt"/>
<g transform="translate(91.4,430.1)"><g clip-path="url(#gc)">
<rect x="0" y="0" width="61.2" height="61.5" fill="#cde6d3"/>
<path d="M0,0 L62,0 L62,62 L0,62 Z" fill="url(#subpat)" />
<path d="M40,0 L62,0 L62,16 C55,14 48,8 40,0 Z" fill="url(#pinkpat)" />
<path d="M0,0 L7,0 C20,5 33,14 42,26 C48,36 50,48 47,62 L0,62 Z" fill="url(#pinkpat)" />
<path d="M0,0 L4,0 C17,6 29,15 38,27 C44,37 46,48 43,62 L0,62 Z" fill="url(#mucpat2)" />
<path d="M0,3 C8,5 16,8 22,12" fill="none" fill="none" stroke="#d08fb0" stroke-width="3" stroke-opacity="0.6"/>
<path d="M0,36 C8,38 16,40 22,41 L30,44 C25,46 20,50 16,55 C12,58 8,61 0,62 Z" fill="#cde6d3" />
</g></g>
<g transform="translate(162.9,430.1)"><g clip-path="url(#gc)">
<rect x="0" y="0" width="61.2" height="61.5" fill="#cde6d3"/>
<path d="M0,49 C6,54 10,58 12,62 L0,62 Z" fill="url(#pinkpat)" />
<path d="M0,0 L6,0 C5,8 6,18 8,28 C12,40 22,48 34,49 C45,49 55,44 62,36 L62,62 L0,62 Z" fill="url(#subpat)" />
<path d="M6,0 L62,0 L62,36 C55,44 45,49 34,49 C22,48 12,40 8,28 C6,18 5,8 6,0 Z" fill="url(#pinkpat)" />
<path d="M9,0 L62,0 L62,33 C55,41 45,46 34,46 C23,45 14,38 11,27 C9,18 8,8 9,0 Z" fill="url(#mucpat)" />
<path d="M37,0 L47,0 C45,8 43,14 41,20 C37,23 33,27 29,30 C30,25 33,20 36,15 C37,10 37,5 37,0 Z" fill="#cde6d3" />
<path d="M37,0 C37,5 37,10 36,15 C33,20 30,25 29,30 C33,27 37,23 41,20 C43,14 45,8 47,0" fill="none" stroke="#7a4e90" stroke-width="2.4" stroke-opacity="0.8"/>
<path d="M33,8 L16,10 M33,16 L15,22 M30,24 L18,34 M31,30 L26,42 M36,28 L38,42 M41,24 L48,38 M44,16 L58,26 M46,8 L60,14 M28,4 L14,3" fill="none" fill="none" stroke="#7d5592" stroke-width="1.8" stroke-opacity="0.4" stroke-linecap="round"/>
</g></g>
<rect x="271.8" y="446.208" width="12.0" height="46.591999999999985" fill="#fff" stroke="#000" stroke-width="1.3"/>
<rect x="292.1" y="423.64" width="12.0" height="69.16000000000003" fill="#a09ea2" stroke="#000" stroke-width="1.3"/>
<rect x="312.2" y="439.656" width="12.0" height="53.144000000000005" fill="#f99b9b" stroke="#000" stroke-width="1.3"/>
<line x1="264.0" y1="405.1" x2="264.0" y2="493.40000000000003" stroke="#000" stroke-width="1.3" stroke-linecap="butt"/>
<line x1="263.4" y1="492.8" x2="331.9" y2="492.8" stroke="#000" stroke-width="1.3" stroke-linecap="butt"/>
<line x1="261.6" y1="405.44" x2="264.0" y2="405.44" stroke="#000" stroke-width="1.3" stroke-linecap="butt"/>
<text x="259.9" y="409.14" font-size="10" text-anchor="end" fill="#000">12</text>
<line x1="261.6" y1="420.0" x2="264.0" y2="420.0" stroke="#000" stroke-width="1.3" stroke-linecap="butt"/>
<text x="259.9" y="423.7" font-size="10" text-anchor="end" fill="#000">10</text>
<line x1="261.6" y1="434.56" x2="264.0" y2="434.56" stroke="#000" stroke-width="1.3" stroke-linecap="butt"/>
<text x="259.9" y="438.26" font-size="10" text-anchor="end" fill="#000">8</text>
<line x1="261.6" y1="449.12" x2="264.0" y2="449.12" stroke="#000" stroke-width="1.3" stroke-linecap="butt"/>
<text x="259.9" y="452.82" font-size="10" text-anchor="end" fill="#000">6</text>
<line x1="261.6" y1="463.68" x2="264.0" y2="463.68" stroke="#000" stroke-width="1.3" stroke-linecap="butt"/>
<text x="259.9" y="467.38" font-size="10" text-anchor="end" fill="#000">4</text>
<line x1="261.6" y1="478.24" x2="264.0" y2="478.24" stroke="#000" stroke-width="1.3" stroke-linecap="butt"/>
<text x="259.9" y="481.94" font-size="10" text-anchor="end" fill="#000">2</text>
<line x1="261.6" y1="492.8" x2="264.0" y2="492.8" stroke="#000" stroke-width="1.3" stroke-linecap="butt"/>
<text x="259.9" y="496.5" font-size="10" text-anchor="end" fill="#000">0</text>
<line x1="277.8" y1="492.8" x2="277.8" y2="495.8" stroke="#000" stroke-width="1.2" stroke-linecap="butt"/>
<line x1="298.1" y1="492.8" x2="298.1" y2="495.8" stroke="#000" stroke-width="1.2" stroke-linecap="butt"/>
<line x1="318.2" y1="492.8" x2="318.2" y2="495.8" stroke="#000" stroke-width="1.2" stroke-linecap="butt"/>
<line x1="277.8" y1="442.204" x2="277.8" y2="450.212" stroke="#000" stroke-width="1.6" stroke-linecap="butt"/>
<line x1="275.0" y1="442.204" x2="280.6" y2="442.204" stroke="#000" stroke-width="1.5" stroke-linecap="butt"/>
<line x1="275.0" y1="450.212" x2="280.6" y2="450.212" stroke="#000" stroke-width="1.5" stroke-linecap="butt"/>
<line x1="298.1" y1="421.456" x2="298.1" y2="425.824" stroke="#000" stroke-width="1.6" stroke-linecap="butt"/>
<line x1="295.3" y1="421.456" x2="300.90000000000003" y2="421.456" stroke="#000" stroke-width="1.5" stroke-linecap="butt"/>
<line x1="295.3" y1="425.824" x2="300.90000000000003" y2="425.824" stroke="#000" stroke-width="1.5" stroke-linecap="butt"/>
<line x1="318.2" y1="434.196" x2="318.2" y2="445.116" stroke="#000" stroke-width="1.6" stroke-linecap="butt"/>
<line x1="315.4" y1="434.196" x2="321.0" y2="434.196" stroke="#000" stroke-width="1.5" stroke-linecap="butt"/>
<line x1="315.4" y1="445.116" x2="321.0" y2="445.116" stroke="#000" stroke-width="1.5" stroke-linecap="butt"/>
<circle cx="277.6" cy="434.9" r="1.55" fill="#000"/>
<circle cx="273" cy="441.8" r="1.55" fill="#000"/>
<circle cx="276.6" cy="441.3" r="1.55" fill="#000"/>
<circle cx="281.3" cy="441.8" r="1.55" fill="#000"/>
<circle cx="275.5" cy="447" r="1.55" fill="#000"/>
<circle cx="280" cy="447.5" r="1.55" fill="#000"/>
<circle cx="273.3" cy="456.2" r="1.55" fill="#000"/>
<circle cx="281" cy="456.2" r="1.55" fill="#000"/>
<circle cx="277.2" cy="457.5" r="1.55" fill="#000"/>
<circle cx="293.2" cy="420" r="1.55" fill="#000"/>
<circle cx="296.2" cy="420" r="1.55" fill="#000"/>
<circle cx="299.3" cy="420" r="1.55" fill="#000"/>
<circle cx="302.5" cy="420" r="1.55" fill="#000"/>
<circle cx="293.6" cy="427" r="1.55" fill="#000"/>
<circle cx="297" cy="427" r="1.55" fill="#000"/>
<circle cx="300.4" cy="427" r="1.55" fill="#000"/>
<circle cx="303.5" cy="427" r="1.55" fill="#000"/>
<circle cx="318.2" cy="420.6" r="1.55" fill="#000"/>
<circle cx="318.2" cy="427.4" r="1.55" fill="#000"/>
<circle cx="315.3" cy="440.6" r="1.55" fill="#000"/>
<circle cx="321.5" cy="440.6" r="1.55" fill="#000"/>
<circle cx="315" cy="450" r="1.55" fill="#000"/>
<circle cx="321.5" cy="450" r="1.55" fill="#000"/>
<path d="M277.2,404.59999999999997 V402.2 H295.4 V404.59999999999997" stroke="#000" stroke-width="1.25" fill="none"/>
<text x="286.29999999999995" y="405.00" font-size="14" font-weight="bold" text-anchor="middle">**</text>
<path d="M297.7,391.59999999999997 V389.2 H315.7 V391.59999999999997" stroke="#000" stroke-width="1.25" fill="none"/>
<text x="306.7" y="392.00" font-size="14" font-weight="bold" text-anchor="middle">**</text>
<text x="244.2" y="449.8" font-size="10" text-anchor="middle" fill="#000" transform="rotate(-90 244.2 449.8)">Histological score</text>
<text x="361.3" y="396.6" font-size="16" text-anchor="start" font-weight="bold" fill="#000">h</text>
<line x1="416.4" y1="404.6" x2="416.4" y2="435.8" stroke="#000" stroke-width="1.3" stroke-linecap="butt"/>
<line x1="416.4" y1="447.4" x2="416.4" y2="493.6" stroke="#000" stroke-width="1.3" stroke-linecap="butt"/>
<line x1="415.8" y1="493.0" x2="679.5" y2="493.0" stroke="#000" stroke-width="1.3" stroke-linecap="butt"/>
<line x1="414.2" y1="405.0" x2="416.4" y2="405.0" stroke="#000" stroke-width="1.3" stroke-linecap="butt"/>
<text x="412.4" y="408.6" font-size="10" text-anchor="end" fill="#000">1200</text>
<line x1="414.2" y1="419.3" x2="416.4" y2="419.3" stroke="#000" stroke-width="1.3" stroke-linecap="butt"/>
<text x="412.4" y="422.90000000000003" font-size="10" text-anchor="end" fill="#000">800</text>
<line x1="414.2" y1="433.6" x2="416.4" y2="433.6" stroke="#000" stroke-width="1.3" stroke-linecap="butt"/>
<text x="412.4" y="437.20000000000005" font-size="10" text-anchor="end" fill="#000">400</text>
<line x1="414.2" y1="447.67" x2="416.4" y2="447.67" stroke="#000" stroke-width="1.3" stroke-linecap="butt"/>
<text x="412.4" y="451.27000000000004" font-size="10" text-anchor="end" fill="#000">300</text>
<line x1="414.2" y1="462.78" x2="416.4" y2="462.78" stroke="#000" stroke-width="1.3" stroke-linecap="butt"/>
<text x="412.4" y="466.38" font-size="10" text-anchor="end" fill="#000">200</text>
<line x1="414.2" y1="477.89" x2="416.4" y2="477.89" stroke="#000" stroke-width="1.3" stroke-linecap="butt"/>
<text x="412.4" y="481.49" font-size="10" text-anchor="end" fill="#000">100</text>
<line x1="414.2" y1="493.0" x2="416.4" y2="493.0" stroke="#000" stroke-width="1.3" stroke-linecap="butt"/>
<text x="412.4" y="496.6" font-size="10" text-anchor="end" fill="#000">0</text>
<line x1="413.0" y1="433.4" x2="419.8" y2="440.2" stroke="#000" stroke-width="1.3" stroke-linecap="butt"/>
<line x1="412.8" y1="443.2" x2="419.8" y2="450.0" stroke="#000" stroke-width="1.3" stroke-linecap="butt"/>
<text x="371.2" y="450.2" font-size="10" text-anchor="middle" fill="#000" transform="rotate(-90 371.2 450.2)">Relative mRNA</text>
<text x="383.6" y="448.8" font-size="10" text-anchor="middle" fill="#000" transform="rotate(-90 383.6 448.8)">levels (%)</text>
<rect x="422.65" y="478.1922" width="11.7" height="14.807799999999986" fill="#fff" stroke="#000" stroke-width="1.3"/>
<line x1="428.5" y1="474.2636" x2="428.5" y2="482.1208" stroke="#000" stroke-width="1.6" stroke-linecap="butt"/>
<line x1="425.7" y1="474.2636" x2="431.3" y2="474.2636" stroke="#000" stroke-width="1.5" stroke-linecap="butt"/>
<line x1="425.7" y1="482.1208" x2="431.3" y2="482.1208" stroke="#000" stroke-width="1.5" stroke-linecap="butt"/>
<rect x="441.34999999999997" y="461.269" width="11.7" height="31.730999999999995" fill="#a09ea2" stroke="#000" stroke-width="1.3"/>
<line x1="447.2" y1="453.1096" x2="447.2" y2="469.4284" stroke="#000" stroke-width="1.6" stroke-linecap="butt"/>
<line x1="444.4" y1="453.1096" x2="450.0" y2="453.1096" stroke="#000" stroke-width="1.5" stroke-linecap="butt"/>
<line x1="444.4" y1="469.4284" x2="450.0" y2="469.4284" stroke="#000" stroke-width="1.5" stroke-linecap="butt"/>
<rect x="460.04999999999995" y="478.1922" width="11.7" height="14.807799999999986" fill="#f99b9b" stroke="#000" stroke-width="1.3"/>
<line x1="465.9" y1="475.1702" x2="465.9" y2="481.2142" stroke="#000" stroke-width="1.6" stroke-linecap="butt"/>
<line x1="463.09999999999997" y1="475.1702" x2="468.7" y2="475.1702" stroke="#000" stroke-width="1.5" stroke-linecap="butt"/>
<line x1="463.09999999999997" y1="481.2142" x2="468.7" y2="481.2142" stroke="#000" stroke-width="1.5" stroke-linecap="butt"/>
<text x="447.2" y="506.3" font-size="10" text-anchor="middle" font-style="italic" fill="#000">Il6</text>
<line x1="447.2" y1="493.0" x2="447.2" y2="496.0" stroke="#000" stroke-width="1.2" stroke-linecap="butt"/>
<rect x="489.75" y="478.4944" width="11.7" height="14.505600000000015" fill="#fff" stroke="#000" stroke-width="1.3"/>
<line x1="495.6" y1="475.0191" x2="495.6" y2="481.9697" stroke="#000" stroke-width="1.6" stroke-linecap="butt"/>
<line x1="492.8" y1="475.0191" x2="498.40000000000003" y2="475.0191" stroke="#000" stroke-width="1.5" stroke-linecap="butt"/>
<line x1="492.8" y1="481.9697" x2="498.40000000000003" y2="481.9697" stroke="#000" stroke-width="1.5" stroke-linecap="butt"/>
<rect x="508.45000000000005" y="447.1" width="11.7" height="45.89999999999998" fill="#a09ea2"/>
<path d="M508.45000000000005,447.1 V493.0 H520.1500000000001 V447.1" stroke="#000" stroke-width="1.3" fill="none"/>
<line x1="508.45000000000005" y1="435.2" x2="520.1500000000001" y2="435.2" stroke="#000" stroke-width="1.5" stroke-linecap="butt"/>
<rect x="527.15" y="472.9037" width="11.7" height="20.096299999999985" fill="#f99b9b" stroke="#000" stroke-width="1.3"/>
<line x1="533.0" y1="465.802" x2="533.0" y2="480.0054" stroke="#000" stroke-width="1.6" stroke-linecap="butt"/>
<line x1="530.2" y1="465.802" x2="535.8" y2="465.802" stroke="#000" stroke-width="1.5" stroke-linecap="butt"/>
<line x1="530.2" y1="480.0054" x2="535.8" y2="480.0054" stroke="#000" stroke-width="1.5" stroke-linecap="butt"/>
<text x="514.3000000000001" y="506.3" font-size="10" text-anchor="middle" font-style="italic" fill="#000">Il1b</text>
<line x1="514.3000000000001" y1="493.0" x2="514.3000000000001" y2="496.0" stroke="#000" stroke-width="1.2" stroke-linecap="butt"/>
<rect x="556.65" y="478.1922" width="11.7" height="14.807799999999986" fill="#fff" stroke="#000" stroke-width="1.3"/>
<line x1="562.5" y1="472.9037" x2="562.5" y2="483.4807" stroke="#000" stroke-width="1.6" stroke-linecap="butt"/>
<line x1="559.7" y1="472.9037" x2="565.3" y2="472.9037" stroke="#000" stroke-width="1.5" stroke-linecap="butt"/>
<line x1="559.7" y1="483.4807" x2="565.3" y2="483.4807" stroke="#000" stroke-width="1.5" stroke-linecap="butt"/>
<rect x="575.35" y="459.4558" width="11.7" height="33.54419999999999" fill="#a09ea2" stroke="#000" stroke-width="1.3"/>
<line x1="581.2" y1="451.7497" x2="581.2" y2="467.1619" stroke="#000" stroke-width="1.6" stroke-linecap="butt"/>
<line x1="578.4000000000001" y1="451.7497" x2="584.0" y2="451.7497" stroke="#000" stroke-width="1.5" stroke-linecap="butt"/>
<line x1="578.4000000000001" y1="467.1619" x2="584.0" y2="467.1619" stroke="#000" stroke-width="1.5" stroke-linecap="butt"/>
<rect x="594.05" y="480.4587" width="11.7" height="12.541299999999978" fill="#f99b9b" stroke="#000" stroke-width="1.3"/>
<line x1="599.9" y1="476.379" x2="599.9" y2="484.5384" stroke="#000" stroke-width="1.6" stroke-linecap="butt"/>
<line x1="597.1" y1="476.379" x2="602.6999999999999" y2="476.379" stroke="#000" stroke-width="1.5" stroke-linecap="butt"/>
<line x1="597.1" y1="484.5384" x2="602.6999999999999" y2="484.5384" stroke="#000" stroke-width="1.5" stroke-linecap="butt"/>
<text x="581.2" y="506.3" font-size="10" text-anchor="middle" font-style="italic" fill="#000">Il12</text>
<line x1="581.2" y1="493.0" x2="581.2" y2="496.0" stroke="#000" stroke-width="1.2" stroke-linecap="butt"/>
<rect x="623.75" y="478.1922" width="11.7" height="14.807799999999986" fill="#fff" stroke="#000" stroke-width="1.3"/>
<line x1="629.6" y1="476.2279" x2="629.6" y2="480.1565" stroke="#000" stroke-width="1.6" stroke-linecap="butt"/>
<line x1="626.8000000000001" y1="476.2279" x2="632.4" y2="476.2279" stroke="#000" stroke-width="1.5" stroke-linecap="butt"/>
<line x1="626.8000000000001" y1="480.1565" x2="632.4" y2="480.1565" stroke="#000" stroke-width="1.5" stroke-linecap="butt"/>
<rect x="642.45" y="461.269" width="11.7" height="31.730999999999995" fill="#a09ea2" stroke="#000" stroke-width="1.3"/>
<line x1="648.3000000000001" y1="453.5629" x2="648.3000000000001" y2="468.9751" stroke="#000" stroke-width="1.6" stroke-linecap="butt"/>
<line x1="645.5000000000001" y1="453.5629" x2="651.1" y2="453.5629" stroke="#000" stroke-width="1.5" stroke-linecap="butt"/>
<line x1="645.5000000000001" y1="468.9751" x2="651.1" y2="468.9751" stroke="#000" stroke-width="1.5" stroke-linecap="butt"/>
<rect x="661.15" y="482.7252" width="11.7" height="10.274800000000027" fill="#f99b9b" stroke="#000" stroke-width="1.3"/>
<line x1="667.0" y1="480.1565" x2="667.0" y2="485.2939" stroke="#000" stroke-width="1.6" stroke-linecap="butt"/>
<line x1="664.2" y1="480.1565" x2="669.8" y2="480.1565" stroke="#000" stroke-width="1.5" stroke-linecap="butt"/>
<line x1="664.2" y1="485.2939" x2="669.8" y2="485.2939" stroke="#000" stroke-width="1.5" stroke-linecap="butt"/>
<text x="648.3000000000001" y="506.3" font-size="10" text-anchor="middle" font-style="italic" fill="#000">Tgfb</text>
<line x1="648.3000000000001" y1="493.0" x2="648.3000000000001" y2="496.0" stroke="#000" stroke-width="1.2" stroke-linecap="butt"/>
<line x1="514.3" y1="447.1" x2="514.3" y2="453.6" stroke="#000" stroke-width="1.5" stroke-linecap="butt"/>
<line x1="511.5" y1="453.6" x2="517.1" y2="453.6" stroke="#000" stroke-width="1.5" stroke-linecap="butt"/>
<line x1="514.3" y1="432.0" x2="514.3" y2="435.2" stroke="#000" stroke-width="1.3" stroke-linecap="butt"/>
<line x1="512.5" y1="432.0" x2="516.5" y2="432.0" stroke="#000" stroke-width="1.3" stroke-linecap="butt"/>
<circle cx="425.5" cy="467.6" r="1.55" fill="#000"/>
<circle cx="429.5" cy="467.6" r="1.55" fill="#000"/>
<circle cx="427.0" cy="474.0" r="1.55" fill="#000"/>
<circle cx="431.5" cy="476.0" r="1.55" fill="#000"/>
<circle cx="424.5" cy="480.5" r="1.55" fill="#000"/>
<circle cx="430.0" cy="483.0" r="1.55" fill="#000"/>
<circle cx="423.5" cy="488.0" r="1.55" fill="#000"/>
<circle cx="428.5" cy="489.5" r="1.55" fill="#000"/>
<circle cx="447.2" cy="431.0" r="1.55" fill="#000"/>
<circle cx="444.5" cy="460.5" r="1.55" fill="#000"/>
<circle cx="449.5" cy="462.0" r="1.55" fill="#000"/>
<circle cx="446.0" cy="476.0" r="1.55" fill="#000"/>
<circle cx="448.5" cy="479.0" r="1.55" fill="#000"/>
<circle cx="446.5" cy="486.5" r="1.55" fill="#000"/>
<circle cx="465.8" cy="462.8" r="1.55" fill="#000"/>
<circle cx="468.0" cy="473.0" r="1.55" fill="#000"/>
<circle cx="463.0" cy="477.0" r="1.55" fill="#000"/>
<circle cx="468.5" cy="478.5" r="1.55" fill="#000"/>
<circle cx="462.5" cy="484.5" r="1.55" fill="#000"/>
<circle cx="469.5" cy="485.0" r="1.55" fill="#000"/>
<circle cx="493.0" cy="469.5" r="1.55" fill="#000"/>
<circle cx="496.0" cy="469.5" r="1.55" fill="#000"/>
<circle cx="499.0" cy="469.5" r="1.55" fill="#000"/>
<circle cx="492.5" cy="476.0" r="1.55" fill="#000"/>
<circle cx="497.5" cy="476.5" r="1.55" fill="#000"/>
<circle cx="495.0" cy="483.0" r="1.55" fill="#000"/>
<circle cx="493.5" cy="489.5" r="1.55" fill="#000"/>
<circle cx="498.5" cy="490.0" r="1.55" fill="#000"/>
<circle cx="513.8" cy="420.4" r="1.55" fill="#000"/>
<circle cx="510.8" cy="429.9" r="1.55" fill="#000"/>
<circle cx="515.3" cy="431.5" r="1.55" fill="#000"/>
<circle cx="514.0" cy="470.4" r="1.55" fill="#000"/>
<circle cx="514.0" cy="479.3" r="1.55" fill="#000"/>
<circle cx="532.0" cy="435.2" r="1.55" fill="#000"/>
<circle cx="532.0" cy="453.0" r="1.55" fill="#000"/>
<circle cx="528.5" cy="479.0" r="1.55" fill="#000"/>
<circle cx="535.0" cy="478.5" r="1.55" fill="#000"/>
<circle cx="529.5" cy="485.5" r="1.55" fill="#000"/>
<circle cx="535.5" cy="488.5" r="1.55" fill="#000"/>
<circle cx="562.0" cy="457.3" r="1.55" fill="#000"/>
<circle cx="562.0" cy="465.8" r="1.55" fill="#000"/>
<circle cx="562.0" cy="474.0" r="1.55" fill="#000"/>
<circle cx="559.0" cy="478.0" r="1.55" fill="#000"/>
<circle cx="564.5" cy="481.0" r="1.55" fill="#000"/>
<circle cx="560.5" cy="486.0" r="1.55" fill="#000"/>
<circle cx="566.0" cy="488.5" r="1.55" fill="#000"/>
<circle cx="578.8" cy="433.5" r="1.55" fill="#000"/>
<circle cx="582.8" cy="432.4" r="1.55" fill="#000"/>
<circle cx="578.0" cy="472.0" r="1.55" fill="#000"/>
<circle cx="583.0" cy="475.0" r="1.55" fill="#000"/>
<circle cx="580.5" cy="484.0" r="1.55" fill="#000"/>
<circle cx="585.0" cy="475.5" r="1.55" fill="#000"/>
<circle cx="599.2" cy="458.7" r="1.55" fill="#000"/>
<circle cx="597.0" cy="481.0" r="1.55" fill="#000"/>
<circle cx="601.5" cy="483.0" r="1.55" fill="#000"/>
<circle cx="599.0" cy="487.0" r="1.55" fill="#000"/>
<circle cx="629.6" cy="470.0" r="1.55" fill="#000"/>
<circle cx="626.0" cy="474.5" r="1.55" fill="#000"/>
<circle cx="630.5" cy="474.0" r="1.55" fill="#000"/>
<circle cx="633.5" cy="474.5" r="1.55" fill="#000"/>
<circle cx="627.5" cy="478.5" r="1.55" fill="#000"/>
<circle cx="631.5" cy="479.5" r="1.55" fill="#000"/>
<circle cx="628.5" cy="483.0" r="1.55" fill="#000"/>
<circle cx="630.5" cy="488.0" r="1.55" fill="#000"/>
<circle cx="644.5" cy="435.5" r="1.55" fill="#000"/>
<circle cx="650.5" cy="432.6" r="1.55" fill="#000"/>
<circle cx="648.3" cy="461.0" r="1.55" fill="#000"/>
<circle cx="646.0" cy="466.0" r="1.55" fill="#000"/>
<circle cx="651.5" cy="470.0" r="1.55" fill="#000"/>
<circle cx="648.3" cy="484.0" r="1.55" fill="#000"/>
<circle cx="662.0" cy="476.2" r="1.55" fill="#000"/>
<circle cx="665.5" cy="476.2" r="1.55" fill="#000"/>
<circle cx="669.0" cy="476.2" r="1.55" fill="#000"/>
<circle cx="664.0" cy="481.0" r="1.55" fill="#000"/>
<circle cx="668.0" cy="482.5" r="1.55" fill="#000"/>
<circle cx="670.0" cy="488.0" r="1.55" fill="#000"/>
<path d="M428.8,418.09999999999997 V415.7 H446.7 V418.09999999999997" stroke="#000" stroke-width="1.25" fill="none"/>
<text x="437.75" y="418.50" font-size="14" font-weight="bold" text-anchor="middle">*</text>
<path d="M446.7,405.59999999999997 V403.2 H464.7 V405.59999999999997" stroke="#000" stroke-width="1.25" fill="none"/>
<text x="455.7" y="406.00" font-size="14" font-weight="bold" text-anchor="middle">*</text>
<path d="M495.9,411.29999999999995 V408.9 H513.8 V411.29999999999995" stroke="#000" stroke-width="1.25" fill="none"/>
<text x="504.84999999999997" y="411.70" font-size="14" font-weight="bold" text-anchor="middle">*</text>
<path d="M513.8,401.29999999999995 V398.9 H531.8 V401.29999999999995" stroke="#000" stroke-width="1.25" fill="none"/>
<text x="522.8" y="401.70" font-size="14" font-weight="bold" text-anchor="middle">*</text>
<path d="M562.7,424.0 V421.6 H580.4 V424.0" stroke="#000" stroke-width="1.25" fill="none"/>
<text x="571.55" y="424.40" font-size="14" font-weight="bold" text-anchor="middle">*</text>
<path d="M580.4,414.29999999999995 V411.9 H598.0 V414.29999999999995" stroke="#000" stroke-width="1.25" fill="none"/>
<text x="589.2" y="414.70" font-size="14" font-weight="bold" text-anchor="middle">*</text>
<path d="M629.3,421.59999999999997 V419.2 H647.6 V421.59999999999997" stroke="#000" stroke-width="1.25" fill="none"/>
<text x="638.45" y="422.00" font-size="14" font-weight="bold" text-anchor="middle">*</text>
<path d="M647.6,412.5 V410.1 H665.5 V412.5" stroke="#000" stroke-width="1.25" fill="none"/>
<text x="656.55" y="412.90" font-size="14" font-weight="bold" text-anchor="middle">**</text>
<text x="207.0" y="563.6" font-size="16" text-anchor="start" font-weight="bold" fill="#000">i</text>
<ellipse cx="301.0" cy="611.1" rx="57.5" ry="40.6" fill="none" stroke="#5f5f5f" stroke-width="2.3" stroke-dasharray="7.5,4.5"/>
<text x="338.0" y="574.0" font-size="10.4" text-anchor="start" font-weight="bold" fill="#000">ARC</text>
<text x="298.2" y="591.7" font-size="10.1" text-anchor="middle" font-weight="bold" fill="#000">AgRP neuron</text>
<text x="296.0" y="610.7" font-size="10.1" text-anchor="middle" font-weight="bold" fill="#000">c-Jun</text>
<text x="298.2" y="635.6" font-size="10.1" text-anchor="middle" font-weight="bold" fill="#000">neuronal activity</text>
<path d="M315.80,599.9 H319.20 V608.00 H322.20 L317.50,616.4 L312.80,608.00 H315.80 Z" fill="#3a8e93"/>
<path d="M295.30,614.8 H297.50 V620.80 H299.60 L296.40,626.4 L293.20,620.80 H295.30 Z" fill="#3a8e93"/>
<path d="M342.80,619.7 H346.20 V628.90 H349.20 L344.50,637.3 L339.80,628.90 H342.80 Z" fill="#3a8e93"/>
<line x1="259.8" y1="643.6" x2="324.5" y2="677.0" stroke="#222" stroke-width="1.3" stroke-dasharray="3.2,2.6" stroke-linecap="butt"/>
<line x1="359.2" y1="617.3" x2="345.6" y2="664.0" stroke="#222" stroke-width="1.3" stroke-dasharray="3.2,2.6" stroke-linecap="butt"/>
<path d="M283.1,672.3 L293.2,668.4 L298.5,674.5 L297.1,675.4 L302.4,679.8 L301.1,680.6 L309,689.8 L294.1,682.8 L295.8,682 L288.8,678 L291,676.7 Z" fill="#b3dfe3" stroke="#86b9be" stroke-width="1.0"/>
<path d="M364.2,668.4 C372,664 380,659.7 390,656.5 C400,653.5 410,651.8 419.4,652 C428,652.3 437,653.5 444,656.5 C452,660 458,666 462.1,672.8 C465,678 466,684 467.6,690.4 C474,695 482,700 490,706 C500,713 510,720 516,727 C520,732 520,738 516.5,741 C512,744 505,745 495,745.2 C480,745.5 465,745.2 450,744.3 C430,743 415,739 400.8,733.6" stroke="#111" stroke-width="1.1" fill="none"/>
<path d="M455.5,701.3 C462,703 468,706 472,709.5 C480,715 488,720 494,724.3 C500,728 505,732 507,734.5 C508,737 506,738.8 503,739.2 C495,739.8 485,739.8 478.5,739.6 C460,739.2 445,738.6 430,737.2 C418,736 408,734.5 400.8,733.6" stroke="#111" stroke-width="1.1" fill="none"/>
<path d="M380,710.2 C385,710 392,710 398,710.3 C405,710.5 412,710 417.2,709.8 L418.5,712.5 C414,713.5 410,713.8 406,714 C403,714.5 401,716 400.8,718 C401.5,720 404,720.8 407,720.3 C412,719 418,718 423.8,717.7 C430,717.5 434,717.3 436.9,716.6 C439,713 441,710 443.5,707.9 C447,705 451,702.5 455.5,701.3" stroke="#111" stroke-width="1.1" fill="none"/>
<path d="M327,680 C324.5,676 323.8,670 325.2,664.5 C327,659.5 331,656.5 335.5,656.3 C340.5,656.2 345,659 346.8,664 C347.6,666.5 347.5,669 347,671" stroke="#111" stroke-width="1.1" fill="none"/>
<path d="M330,678 C328.5,672 330,665 334.5,661.5 C338,659.5 342,661 344,664" stroke="#111" stroke-width="0.8" fill="none"/>
<path d="M345.3,684.4 C343.8,679 344,672 347.5,667 C350.5,663.5 355,662.8 359,664 C363,665.8 364.8,670 364.6,675 C364.3,680 362,685 358,687.8 C356.5,688.6 355,688.2 354,687.3" stroke="#111" stroke-width="1.1" fill="none"/>
<path d="M348.5,684 C347.5,678 348.5,671.5 352.5,667.5" stroke="#111" stroke-width="0.8" fill="none"/>
<path d="M351.5,686.5 C352.5,684 354.5,683 355.6,684.2" stroke="#111" stroke-width="0.8" fill="none"/>
<path d="M328.2,681.3 C325,683.8 321.5,686.6 318.5,689.6 C315.5,692.5 312.5,695.5 310.8,698 C310,700 311,701.5 313.3,702 C317,703 321,704.6 325.5,706.2 C332,708.4 340,709.8 348.2,710.5 C351,710.6 353.5,710.2 355.4,710.6 C357,713 358.6,716 359.5,718.5" stroke="#111" stroke-width="1.1" fill="none"/>
<circle cx="313.8" cy="699.2" r="1.7" fill="none" stroke="#111" stroke-width="0.9"/>
<path d="M348.5,717.5 C351,716 355,715.8 359.5,716.5 M349.5,719.6 C352,721 356.5,721.6 360.5,720.6 C365,719 370,716 375,714 C378,713 380,711 380,710.2" stroke="#111" stroke-width="1.0" fill="none"/>
<ellipse cx="336.8" cy="691.4" rx="5.0" ry="4.5" fill="#111" transform="rotate(-25 336.8 691.4)"/>
<path d="M334.6,690.2 C336,687.8 339.4,687.6 341,689.6 C339,690.6 336.6,690.9 334.6,690.2 Z" fill="#fff"/>
<circle cx="334.6" cy="693.6" r="0.9" fill="#fff"/>
<path d="M338.2,679.7 C336.6,679.3 335.6,680.6 336,682.1 C336.5,683.3 338,683.4 338.9,682.6" stroke="#111" stroke-width="0.8" fill="none"/>
<line x1="324" y1="699.5" x2="345" y2="703" stroke="#333" stroke-width="0.5" stroke-linecap="butt"/>
<line x1="324.5" y1="700.8" x2="343" y2="707.5" stroke="#333" stroke-width="0.5" stroke-linecap="butt"/>
<line x1="325" y1="702" x2="340" y2="710.5" stroke="#333" stroke-width="0.5" stroke-linecap="butt"/>
<line x1="326" y1="701" x2="348" y2="702.5" stroke="#333" stroke-width="0.5" stroke-linecap="butt"/>
<line x1="362.8" y1="685.6" x2="373.5" y2="687.2" stroke="#3a8e93" stroke-width="2.2" stroke-dasharray="4.5,2.5" stroke-linecap="butt"/>
<path d="M372.6,683.6 L378.6,687.6 L371.8,690.6 Z" fill="#3a8e93"/>
<line x1="401.9" y1="688.6" x2="414.5" y2="687.5" stroke="#3a8e93" stroke-width="2.2" stroke-dasharray="4.5,2.5" stroke-linecap="butt"/>
<path d="M413.8,684.3 L420.5,687.1 L414.2,690.6 Z" fill="#3a8e93"/>
<circle cx="385.3" cy="685.4" r="2.3" fill="#25a5bd"/>
<circle cx="393.5" cy="688.6" r="2.3" fill="#25a5bd"/>
<circle cx="387.3" cy="692.4" r="2.3" fill="#25a5bd"/>
<text x="390.5" y="668.4" font-size="9.3" text-anchor="middle" font-weight="bold" fill="#000">serum</text>
<text x="390.5" y="680.0" font-size="9.3" text-anchor="middle" font-weight="bold" fill="#000">thbs1</text>
<path d="M408.90,662.6 H412.30 V672.40 H415.30 L410.60,680.8 L405.90,672.40 H408.90 Z" fill="#3a8e93"/>
<polygon points="440.80,666.55 443.59,674.92 447.51,673.70 448.22,676.96 458.14,672.90 451.43,680.70 459.32,682.35 452.29,685.64 462.51,691.42 450.38,690.18 451.84,695.19 446.31,693.37 445.92,701.12 441.30,694.57 437.55,700.50 436.10,693.71 427.93,698.82 431.46,690.46 420.13,691.10 429.29,685.47 423.47,681.96 430.13,680.78 423.68,674.25 433.38,676.96 432.90,669.96 438.30,674.86" fill="#b7dde0" stroke="#8fb8bb" stroke-width="0.8"/>
<text x="441.3" y="686.9" font-size="10" text-anchor="middle" font-weight="bold" fill="#000">colitis</text>
<text x="206.1" y="735.9" font-size="10.2" text-anchor="start" font-weight="bold" fill="#000">Chronic stress induced anxiety</text>
</svg>
</body></html>
